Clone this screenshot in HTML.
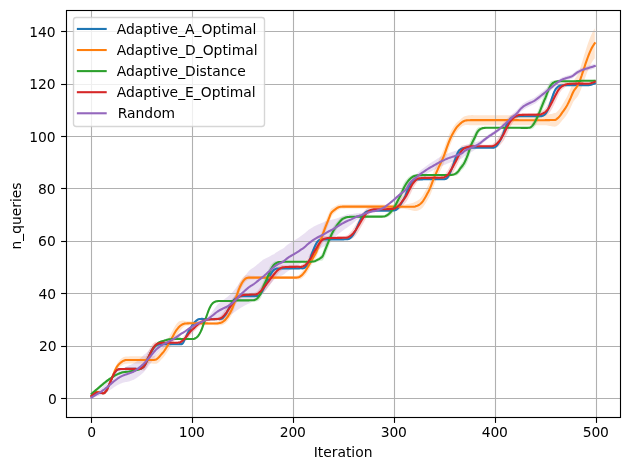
<!DOCTYPE html>
<html lang="en"><head><meta charset="utf-8"><title>n_queries vs Iteration</title>
<style>html,body{margin:0;padding:0;background:#fff}body{width:630px;height:470px;overflow:hidden}svg{display:block;will-change:transform}</style>
</head><body>
<svg width="630" height="470" viewBox="0 0 630 470">
<rect width="630" height="470" fill="#fff"/>
<defs><clipPath id="ax"><rect x="66.5" y="10.5" width="554.0" height="407.0"/></clipPath></defs>
<g clip-path="url(#ax)">
<path d="M91.50 395.77 L92.51 394.90 L93.52 394.16 L94.53 393.41 L95.53 392.70 L96.54 392.22 L97.55 392.13 L98.56 392.24 L99.57 392.41 L100.58 392.59 L101.59 392.76 L102.59 392.94 L103.60 393.01 L104.61 392.47 L105.62 391.37 L106.63 389.98 L107.64 387.88 L108.65 385.63 L109.66 383.27 L110.66 380.88 L111.67 378.45 L112.68 376.14 L113.69 374.08 L114.70 372.27 L115.71 370.95 L116.72 369.92 L117.72 369.33 L118.73 368.95 L119.74 368.79 L120.75 368.73 L121.76 368.70 L122.77 368.64 L123.78 368.62 L124.78 368.59 L125.79 368.57 L126.80 368.55 L127.81 368.53 L128.82 368.53 L129.83 368.53 L130.84 368.54 L131.84 368.54 L132.85 368.55 L133.86 368.56 L134.87 368.57 L135.88 368.58 L136.89 368.59 L137.90 368.57 L138.91 368.50 L139.91 368.34 L140.92 367.91 L141.93 367.20 L142.94 366.25 L143.95 365.15 L144.96 363.39 L145.97 361.03 L146.97 358.55 L147.98 356.47 L148.99 354.41 L150.00 352.35 L151.01 350.46 L152.02 348.84 L153.03 347.35 L154.03 346.18 L155.04 345.28 L156.05 344.56 L157.06 344.19 L158.07 344.02 L159.08 343.91 L160.09 343.86 L161.09 343.88 L162.10 343.92 L163.11 343.88 L164.12 343.86 L165.13 343.86 L166.14 343.87 L167.15 343.87 L168.16 343.87 L169.16 343.87 L170.17 343.87 L171.18 343.87 L172.19 343.87 L173.20 343.87 L174.21 343.87 L175.22 343.87 L176.22 343.87 L177.23 343.85 L178.24 343.85 L179.25 343.78 L180.26 343.48 L181.27 343.41 L182.28 342.66 L183.28 341.13 L184.29 338.68 L185.30 336.42 L186.31 334.19 L187.32 332.12 L188.33 330.20 L189.34 328.38 L190.34 326.71 L191.35 325.13 L192.36 323.69 L193.37 322.43 L194.38 321.29 L195.39 320.31 L196.40 319.60 L197.41 319.00 L198.41 318.58 L199.42 318.50 L200.43 318.51 L201.44 318.51 L202.45 318.51 L203.46 318.55 L204.47 318.63 L205.47 318.86 L206.48 318.81 L207.49 318.83 L208.50 318.84 L209.51 318.85 L210.52 318.85 L211.53 318.85 L212.53 318.85 L213.54 318.84 L214.55 318.83 L215.56 318.82 L216.57 318.76 L217.58 318.70 L218.59 318.61 L219.59 318.64 L220.60 318.43 L221.61 318.00 L222.62 317.19 L223.63 315.92 L224.64 314.47 L225.65 312.80 L226.66 310.88 L227.66 308.81 L228.67 306.78 L229.68 304.81 L230.69 303.00 L231.70 301.28 L232.71 299.90 L233.72 298.79 L234.72 297.83 L235.73 297.08 L236.74 296.57 L237.75 296.16 L238.76 295.91 L239.77 295.86 L240.78 295.85 L241.78 295.83 L242.79 295.80 L243.80 295.77 L244.81 295.78 L245.82 295.79 L246.83 295.79 L247.84 295.79 L248.84 295.79 L249.85 295.79 L250.86 295.79 L251.87 295.78 L252.88 295.77 L253.89 295.77 L254.90 295.70 L255.91 295.63 L256.91 295.47 L257.92 295.20 L258.93 294.66 L259.94 293.36 L260.95 291.80 L261.96 289.96 L262.97 287.90 L263.97 285.88 L264.98 283.78 L265.99 281.69 L267.00 279.63 L268.01 277.58 L269.02 275.61 L270.03 273.81 L271.03 272.07 L272.04 270.60 L273.05 269.56 L274.06 268.74 L275.07 268.29 L276.08 268.09 L277.09 267.99 L278.09 268.00 L279.10 268.01 L280.11 268.01 L281.12 268.02 L282.13 268.02 L283.14 268.02 L284.15 268.02 L285.16 268.02 L286.16 268.02 L287.17 268.02 L288.18 268.02 L289.19 268.02 L290.20 268.02 L291.21 268.02 L292.22 268.02 L293.22 268.02 L294.23 268.02 L295.24 268.02 L296.25 268.01 L297.26 268.00 L298.27 268.00 L299.28 267.94 L300.28 267.85 L301.29 267.88 L302.30 267.88 L303.31 267.63 L304.32 266.97 L305.33 265.96 L306.34 264.51 L307.34 262.70 L308.35 260.59 L309.36 258.18 L310.37 255.46 L311.38 252.52 L312.39 250.00 L313.40 247.69 L314.41 245.34 L315.41 243.19 L316.42 241.51 L317.43 240.25 L318.44 239.55 L319.45 239.16 L320.46 239.04 L321.47 238.97 L322.47 238.98 L323.48 239.02 L324.49 239.03 L325.50 239.03 L326.51 239.03 L327.52 239.02 L328.53 239.02 L329.53 239.02 L330.54 239.02 L331.55 239.02 L332.56 239.02 L333.57 239.02 L334.58 239.02 L335.59 239.02 L336.59 239.02 L337.60 239.02 L338.61 239.02 L339.62 239.02 L340.63 239.01 L341.64 238.99 L342.65 238.97 L343.66 238.94 L344.66 238.90 L345.67 238.84 L346.68 238.72 L347.69 238.55 L348.70 238.24 L349.71 237.49 L350.72 236.47 L351.72 235.33 L352.73 233.85 L353.74 232.13 L354.75 230.27 L355.76 228.11 L356.77 225.83 L357.78 223.63 L358.78 221.39 L359.79 219.20 L360.80 217.27 L361.81 215.45 L362.82 213.85 L363.83 212.67 L364.84 211.75 L365.84 211.04 L366.85 210.67 L367.86 210.44 L368.87 210.29 L369.88 210.28 L370.89 210.29 L371.90 210.30 L372.90 210.29 L373.91 210.28 L374.92 210.27 L375.93 210.27 L376.94 210.27 L377.95 210.27 L378.96 210.27 L379.97 210.27 L380.97 210.27 L381.98 210.27 L382.99 210.27 L384.00 210.27 L385.01 210.27 L386.02 210.27 L387.03 210.26 L388.03 210.25 L389.04 210.24 L390.05 210.21 L391.06 210.18 L392.07 210.10 L393.08 209.97 L394.09 209.75 L395.09 209.45 L396.10 208.91 L397.11 207.93 L398.12 206.74 L399.13 205.36 L400.14 203.68 L401.15 201.87 L402.15 200.09 L403.16 198.22 L404.17 196.18 L405.18 193.90 L406.19 191.25 L407.20 188.62 L408.21 186.32 L409.22 184.14 L410.22 182.38 L411.23 181.16 L412.24 180.11 L413.25 179.37 L414.26 179.12 L415.27 179.07 L416.28 179.02 L417.28 178.95 L418.29 178.92 L419.30 178.92 L420.31 178.91 L421.32 178.91 L422.33 178.90 L423.34 178.89 L424.34 178.88 L425.35 178.88 L426.36 178.89 L427.37 178.89 L428.38 178.89 L429.39 178.89 L430.40 178.88 L431.40 178.88 L432.41 178.88 L433.42 178.88 L434.43 178.88 L435.44 178.88 L436.45 178.88 L437.46 178.87 L438.47 178.86 L439.47 178.83 L440.48 178.81 L441.49 178.78 L442.50 178.74 L443.51 178.65 L444.52 178.47 L445.53 178.19 L446.53 177.34 L447.54 175.98 L448.55 174.31 L449.56 171.95 L450.57 169.35 L451.58 166.74 L452.59 163.98 L453.59 161.16 L454.60 158.28 L455.61 155.45 L456.62 152.99 L457.63 150.88 L458.64 149.55 L459.65 148.66 L460.65 148.21 L461.66 147.87 L462.67 147.60 L463.68 147.34 L464.69 147.19 L465.70 147.25 L466.71 147.29 L467.72 147.31 L468.72 147.31 L469.73 147.31 L470.74 147.31 L471.75 147.31 L472.76 147.31 L473.77 147.31 L474.78 147.31 L475.78 147.31 L476.79 147.31 L477.80 147.30 L478.81 147.30 L479.82 147.30 L480.83 147.30 L481.84 147.30 L482.84 147.30 L483.85 147.30 L484.86 147.30 L485.87 147.30 L486.88 147.30 L487.89 147.30 L488.90 147.30 L489.90 147.30 L490.91 147.29 L491.92 147.23 L492.93 147.14 L493.94 146.85 L494.95 146.15 L495.96 145.24 L496.97 144.09 L497.97 142.52 L498.98 140.76 L499.99 138.84 L501.00 136.66 L502.01 134.31 L503.02 131.67 L504.03 128.87 L505.03 126.32 L506.04 123.96 L507.05 121.82 L508.06 120.18 L509.07 118.90 L510.08 117.87 L511.09 117.15 L512.09 116.57 L513.10 116.11 L514.11 115.89 L515.12 115.88 L516.13 115.87 L517.14 115.85 L518.15 115.82 L519.15 115.80 L520.16 115.78 L521.17 115.77 L522.18 115.76 L523.19 115.76 L524.20 115.77 L525.21 115.77 L526.22 115.77 L527.22 115.77 L528.23 115.77 L529.24 115.77 L530.25 115.76 L531.26 115.76 L532.27 115.76 L533.28 115.76 L534.28 115.76 L535.29 115.76 L536.30 115.75 L537.31 115.73 L538.32 115.71 L539.33 115.68 L540.34 115.60 L541.34 115.47 L542.35 115.16 L543.36 114.51 L544.37 113.62 L545.38 112.50 L546.39 110.79 L547.40 108.69 L548.40 106.20 L549.41 103.19 L550.42 100.15 L551.43 97.02 L552.44 94.06 L553.45 91.50 L554.46 89.20 L555.47 87.64 L556.47 86.65 L557.48 85.95 L558.49 85.42 L559.50 84.98 L560.51 84.83 L561.52 84.82 L562.53 84.80 L563.53 84.76 L564.54 84.71 L565.55 84.63 L566.56 84.57 L567.57 84.59 L568.58 84.60 L569.59 84.60 L570.59 84.60 L571.60 84.60 L572.61 84.60 L573.62 84.60 L574.63 84.60 L575.64 84.60 L576.65 84.60 L577.65 84.60 L578.66 84.60 L579.67 84.60 L580.68 84.62 L581.69 84.63 L582.70 84.64 L583.71 84.66 L584.72 84.67 L585.72 84.69 L586.73 84.69 L587.74 84.66 L588.75 84.60 L589.76 84.40 L590.77 84.07 L591.78 83.70 L592.78 83.35 L593.79 82.94 L594.80 82.49 L594.80 84.14 L593.79 84.56 L592.78 84.92 L591.78 85.20 L590.77 85.46 L589.76 85.68 L588.75 85.79 L587.74 85.76 L586.73 85.72 L585.72 85.70 L584.72 85.69 L583.71 85.67 L582.70 85.66 L581.69 85.64 L580.68 85.62 L579.67 85.61 L578.66 85.60 L577.65 85.59 L576.65 85.59 L575.64 85.58 L574.63 85.58 L573.62 85.58 L572.61 85.58 L571.60 85.58 L570.59 85.58 L569.59 85.58 L568.58 85.59 L567.57 85.60 L566.56 85.61 L565.55 85.68 L564.54 85.78 L563.53 85.85 L562.53 85.93 L561.52 86.06 L560.51 86.27 L559.50 86.67 L558.49 87.45 L557.48 88.42 L556.47 89.70 L555.47 91.33 L554.46 93.53 L553.45 96.44 L552.44 99.44 L551.43 102.59 L550.42 105.65 L549.41 108.39 L548.40 110.94 L547.40 112.83 L546.39 114.28 L545.38 115.38 L544.37 115.97 L543.36 116.39 L542.35 116.69 L541.34 116.77 L540.34 116.72 L539.33 116.70 L538.32 116.70 L537.31 116.71 L536.30 116.71 L535.29 116.72 L534.28 116.72 L533.28 116.72 L532.27 116.71 L531.26 116.71 L530.25 116.71 L529.24 116.71 L528.23 116.71 L527.22 116.71 L526.22 116.71 L525.21 116.71 L524.20 116.71 L523.19 116.71 L522.18 116.72 L521.17 116.73 L520.16 116.76 L519.15 116.78 L518.15 116.82 L517.14 116.87 L516.13 116.96 L515.12 117.10 L514.11 117.32 L513.10 117.79 L512.09 118.56 L511.09 119.51 L510.08 120.61 L509.07 122.09 L508.06 123.88 L507.05 125.98 L506.04 128.52 L505.03 131.18 L504.03 133.81 L503.02 136.50 L502.01 138.92 L501.00 140.94 L499.99 142.75 L498.98 144.29 L497.97 145.65 L496.97 146.81 L495.96 147.55 L494.95 148.02 L493.94 148.35 L492.93 148.38 L491.92 148.28 L490.91 148.23 L489.90 148.22 L488.90 148.22 L487.89 148.22 L486.88 148.22 L485.87 148.22 L484.86 148.21 L483.85 148.21 L482.84 148.21 L481.84 148.21 L480.83 148.21 L479.82 148.21 L478.81 148.21 L477.80 148.21 L476.79 148.21 L475.78 148.21 L474.78 148.21 L473.77 148.21 L472.76 148.21 L471.75 148.21 L470.74 148.21 L469.73 148.21 L468.72 148.21 L467.72 148.21 L466.71 148.23 L465.70 148.27 L464.69 148.33 L463.68 148.63 L462.67 149.09 L461.66 149.63 L460.65 150.34 L459.65 151.31 L458.64 152.86 L457.63 154.88 L456.62 157.60 L455.61 160.50 L454.60 163.54 L453.59 166.42 L452.59 169.11 L451.58 171.65 L450.57 173.91 L449.56 176.02 L448.55 177.83 L447.54 178.85 L446.53 179.53 L445.53 179.85 L444.52 179.76 L443.51 179.69 L442.50 179.68 L441.49 179.70 L440.48 179.72 L439.47 179.74 L438.47 179.75 L437.46 179.76 L436.45 179.76 L435.44 179.76 L434.43 179.76 L433.42 179.76 L432.41 179.75 L431.40 179.75 L430.40 179.75 L429.39 179.75 L428.38 179.75 L427.37 179.75 L426.36 179.75 L425.35 179.75 L424.34 179.76 L423.34 179.77 L422.33 179.78 L421.32 179.79 L420.31 179.80 L419.30 179.83 L418.29 179.88 L417.28 179.96 L416.28 180.12 L415.27 180.40 L414.26 180.79 L413.25 181.43 L412.24 182.67 L411.23 184.30 L410.22 186.05 L409.22 188.23 L408.21 190.77 L407.20 193.27 L406.19 195.86 L405.18 198.33 L404.17 200.37 L403.16 202.12 L402.15 203.75 L401.15 205.32 L400.14 206.90 L399.13 208.32 L398.12 209.34 L397.11 210.11 L396.10 210.70 L395.09 210.93 L394.09 210.97 L393.08 211.02 L392.07 211.06 L391.06 211.09 L390.05 211.09 L389.04 211.10 L388.03 211.10 L387.03 211.11 L386.02 211.10 L385.01 211.10 L384.00 211.10 L382.99 211.10 L381.98 211.10 L380.97 211.10 L379.97 211.10 L378.96 211.10 L377.95 211.10 L376.94 211.10 L375.93 211.10 L374.92 211.11 L373.91 211.12 L372.90 211.14 L371.90 211.16 L370.89 211.21 L369.88 211.29 L368.87 211.44 L367.86 211.81 L366.85 212.35 L365.84 213.06 L364.84 214.17 L363.83 215.54 L362.82 217.12 L361.81 219.07 L360.80 221.20 L359.79 223.34 L358.78 225.61 L357.78 227.89 L356.77 230.00 L355.76 232.08 L354.75 233.98 L353.74 235.51 L352.73 236.84 L351.72 237.95 L350.72 238.70 L349.71 239.31 L348.70 239.72 L347.69 239.77 L346.68 239.74 L345.67 239.74 L344.66 239.76 L343.66 239.79 L342.65 239.80 L341.64 239.81 L340.63 239.82 L339.62 239.82 L338.61 239.82 L337.60 239.82 L336.59 239.81 L335.59 239.81 L334.58 239.81 L333.57 239.81 L332.56 239.81 L331.55 239.81 L330.54 239.81 L329.53 239.81 L328.53 239.81 L327.52 239.81 L326.51 239.82 L325.50 239.82 L324.49 239.83 L323.48 239.86 L322.47 239.91 L321.47 240.04 L320.46 240.37 L319.45 240.89 L318.44 241.79 L317.43 243.09 L316.42 244.95 L315.41 247.16 L314.41 249.67 L313.40 252.33 L312.39 254.82 L311.38 257.34 L310.37 260.14 L309.36 262.61 L308.35 264.59 L307.34 266.13 L306.34 267.37 L305.33 268.27 L304.32 268.75 L303.31 269.01 L302.30 268.95 L301.29 268.79 L300.28 268.67 L299.28 268.76 L298.27 268.80 L297.26 268.80 L296.25 268.78 L295.24 268.78 L294.23 268.78 L293.22 268.78 L292.22 268.78 L291.21 268.78 L290.20 268.78 L289.19 268.78 L288.18 268.78 L287.17 268.78 L286.16 268.78 L285.16 268.78 L284.15 268.78 L283.14 268.78 L282.13 268.78 L281.12 268.78 L280.11 268.79 L279.10 268.84 L278.09 268.92 L277.09 269.07 L276.08 269.43 L275.07 269.98 L274.06 270.84 L273.05 272.13 L272.04 273.60 L271.03 275.42 L270.03 277.44 L269.02 279.44 L268.01 281.50 L267.00 283.61 L265.99 285.67 L264.98 287.73 L263.97 289.73 L262.97 291.56 L261.96 293.33 L260.95 294.75 L259.94 295.77 L258.93 296.53 L257.92 296.62 L256.91 296.53 L255.91 296.48 L254.90 296.49 L253.89 296.54 L252.88 296.53 L251.87 296.52 L250.86 296.51 L249.85 296.51 L248.84 296.51 L247.84 296.51 L246.83 296.51 L245.82 296.52 L244.81 296.52 L243.80 296.53 L242.79 296.58 L241.78 296.64 L240.78 296.73 L239.77 296.88 L238.76 297.10 L237.75 297.58 L236.74 298.28 L235.73 299.09 L234.72 300.14 L233.72 301.44 L232.71 302.89 L231.70 304.57 L230.69 306.54 L229.68 308.53 L228.67 310.56 L227.66 312.51 L226.66 314.39 L225.65 316.03 L224.64 317.34 L223.63 318.33 L222.62 319.12 L221.61 319.51 L220.60 319.59 L219.59 319.55 L218.59 319.41 L217.58 319.45 L216.57 319.51 L215.56 319.57 L214.55 319.56 L213.54 319.55 L212.53 319.54 L211.53 319.54 L210.52 319.54 L209.51 319.54 L208.50 319.55 L207.49 319.56 L206.48 319.59 L205.47 319.65 L204.47 319.44 L203.46 319.35 L202.45 319.30 L201.44 319.30 L200.43 319.41 L199.42 319.60 L198.41 319.92 L197.41 320.63 L196.40 321.57 L195.39 322.57 L194.38 323.80 L193.37 325.20 L192.36 326.68 L191.35 328.33 L190.34 330.11 L189.34 331.97 L188.33 333.95 L187.32 336.00 L186.31 338.15 L185.30 340.29 L184.29 342.16 L183.28 343.97 L182.28 344.82 L181.27 344.94 L180.26 344.49 L179.25 344.53 L178.24 344.56 L177.23 344.56 L176.22 344.54 L175.22 344.54 L174.21 344.54 L173.20 344.54 L172.19 344.54 L171.18 344.54 L170.17 344.53 L169.16 344.53 L168.16 344.53 L167.15 344.53 L166.14 344.53 L165.13 344.54 L164.12 344.54 L163.11 344.56 L162.10 344.62 L161.09 344.63 L160.09 344.68 L159.08 344.86 L158.07 345.20 L157.06 345.67 L156.05 346.37 L155.04 347.48 L154.03 348.79 L153.03 350.33 L152.02 352.14 L151.01 354.05 L150.00 356.12 L148.99 358.33 L147.98 360.51 L146.97 362.51 L145.97 364.69 L144.96 366.62 L143.95 367.88 L142.94 368.40 L141.93 368.83 L140.92 369.18 L139.91 369.38 L138.91 369.35 L137.90 369.28 L136.89 369.24 L135.88 369.23 L134.87 369.22 L133.86 369.21 L132.85 369.20 L131.84 369.19 L130.84 369.18 L129.83 369.17 L128.82 369.17 L127.81 369.18 L126.80 369.20 L125.79 369.23 L124.78 369.26 L123.78 369.29 L122.77 369.32 L121.76 369.32 L120.75 369.36 L119.74 369.41 L118.73 369.57 L117.72 369.96 L116.72 370.54 L115.71 371.57 L114.70 372.89 L113.69 374.69 L112.68 376.76 L111.67 379.07 L110.66 381.49 L109.66 383.89 L108.65 386.24 L107.64 388.49 L106.63 390.60 L105.62 391.98 L104.61 393.08 L103.60 393.62 L102.59 393.55 L101.59 393.37 L100.58 393.20 L99.57 393.02 L98.56 392.84 L97.55 392.74 L96.54 392.82 L95.53 393.30 L94.53 394.01 L93.52 394.76 L92.51 395.50 L91.50 396.37Z" fill="#1f77b4" fill-opacity="0.2"/>
<path d="M91.50 395.29 L92.51 394.26 L93.52 393.37 L94.53 392.50 L95.53 391.68 L96.54 391.10 L97.55 390.94 L98.56 391.02 L99.57 391.19 L100.58 391.39 L101.59 391.62 L102.59 391.93 L103.60 392.01 L104.61 391.40 L105.62 390.24 L106.63 388.79 L107.64 386.54 L108.65 384.16 L109.66 381.69 L110.66 379.12 L111.67 376.46 L112.68 373.79 L113.69 371.09 L114.70 368.42 L115.71 366.14 L116.72 364.24 L117.72 362.60 L118.73 361.25 L119.74 360.10 L120.75 359.10 L121.76 358.23 L122.77 357.59 L123.78 357.09 L124.78 356.71 L125.79 356.46 L126.80 356.43 L127.81 356.41 L128.82 356.39 L129.83 356.37 L130.84 356.36 L131.84 356.36 L132.85 356.35 L133.86 356.35 L134.87 356.35 L135.88 356.35 L136.89 356.35 L137.90 356.35 L138.91 356.35 L139.91 356.35 L140.92 356.35 L141.93 356.35 L142.94 356.35 L143.95 356.35 L144.96 356.35 L145.97 356.35 L146.97 356.35 L147.98 356.35 L148.99 356.35 L150.00 356.35 L151.01 356.35 L152.02 356.34 L153.03 356.22 L154.03 356.07 L155.04 355.74 L156.05 355.21 L157.06 354.35 L158.07 353.26 L159.08 352.00 L160.09 350.66 L161.09 349.41 L162.10 348.19 L163.11 346.90 L164.12 345.48 L165.13 343.87 L166.14 342.18 L167.15 340.49 L168.16 338.76 L169.16 336.94 L170.17 335.01 L171.18 333.05 L172.19 331.13 L173.20 329.28 L174.21 327.43 L175.22 325.70 L176.22 324.22 L177.23 322.99 L178.24 321.94 L179.25 321.37 L180.26 320.88 L181.27 320.65 L182.28 320.56 L183.28 320.57 L184.29 320.71 L185.30 321.02 L186.31 321.34 L187.32 321.32 L188.33 321.30 L189.34 321.30 L190.34 321.32 L191.35 321.32 L192.36 321.33 L193.37 321.33 L194.38 321.33 L195.39 321.33 L196.40 321.33 L197.41 321.32 L198.41 321.36 L199.42 321.39 L200.43 321.42 L201.44 321.46 L202.45 321.50 L203.46 321.54 L204.47 321.59 L205.47 321.63 L206.48 321.68 L207.49 321.73 L208.50 321.77 L209.51 321.82 L210.52 321.87 L211.53 321.92 L212.53 321.97 L213.54 321.92 L214.55 321.85 L215.56 321.76 L216.57 321.62 L217.58 321.41 L218.59 321.16 L219.59 320.83 L220.60 320.43 L221.61 319.89 L222.62 319.07 L223.63 318.05 L224.64 316.95 L225.65 315.71 L226.66 314.25 L227.66 312.59 L228.67 310.90 L229.68 309.05 L230.69 306.95 L231.70 304.57 L232.71 301.96 L233.72 298.90 L234.72 295.64 L235.73 292.59 L236.74 289.61 L237.75 286.73 L238.76 284.12 L239.77 282.03 L240.78 280.28 L241.78 278.72 L242.79 277.42 L243.80 276.51 L244.81 275.77 L245.82 275.32 L246.83 275.27 L247.84 275.28 L248.84 275.37 L249.85 275.52 L250.86 275.64 L251.87 275.72 L252.88 275.78 L253.89 275.85 L254.90 275.92 L255.91 275.98 L256.91 276.05 L257.92 276.12 L258.93 276.12 L259.94 276.12 L260.95 276.12 L261.96 276.12 L262.97 276.12 L263.97 276.12 L264.98 276.12 L265.99 276.12 L267.00 276.12 L268.01 276.12 L269.02 276.12 L270.03 276.12 L271.03 276.12 L272.04 276.12 L273.05 276.12 L274.06 276.12 L275.07 276.12 L276.08 276.12 L277.09 276.12 L278.09 276.12 L279.10 276.12 L280.11 276.12 L281.12 276.12 L282.13 276.12 L283.14 276.12 L284.15 276.12 L285.16 276.12 L286.16 276.12 L287.17 276.12 L288.18 276.12 L289.19 276.12 L290.20 276.12 L291.21 276.12 L292.22 276.12 L293.22 276.12 L294.23 276.04 L295.24 275.95 L296.25 275.80 L297.26 275.57 L298.27 275.14 L299.28 274.51 L300.28 273.62 L301.29 272.59 L302.30 271.40 L303.31 270.06 L304.32 268.63 L305.33 267.03 L306.34 265.26 L307.34 263.41 L308.35 261.57 L309.36 259.72 L310.37 257.85 L311.38 256.07 L312.39 254.33 L313.40 252.56 L314.41 250.74 L315.41 248.85 L316.42 246.50 L317.43 243.48 L318.44 240.57 L319.45 237.76 L320.46 234.99 L321.47 232.20 L322.47 229.37 L323.48 226.55 L324.49 223.81 L325.50 221.24 L326.51 218.77 L327.52 216.33 L328.53 214.00 L329.53 211.74 L330.54 209.50 L331.55 208.26 L332.56 207.65 L333.57 207.16 L334.58 206.62 L335.59 206.02 L336.59 205.41 L337.60 204.89 L338.61 204.58 L339.62 204.52 L340.63 204.51 L341.64 204.50 L342.65 204.53 L343.66 204.59 L344.66 204.61 L345.67 204.62 L346.68 204.62 L347.69 204.62 L348.70 204.62 L349.71 204.62 L350.72 204.62 L351.72 204.62 L352.73 204.62 L353.74 204.62 L354.75 204.62 L355.76 204.62 L356.77 204.62 L357.78 204.62 L358.78 204.62 L359.79 204.62 L360.80 204.62 L361.81 204.62 L362.82 204.62 L363.83 204.62 L364.84 204.62 L365.84 204.62 L366.85 204.62 L367.86 204.62 L368.87 204.62 L369.88 204.62 L370.89 204.62 L371.90 204.62 L372.90 204.61 L373.91 204.61 L374.92 204.61 L375.93 204.61 L376.94 204.61 L377.95 204.61 L378.96 204.61 L379.97 204.61 L380.97 204.61 L381.98 204.61 L382.99 204.61 L384.00 204.61 L385.01 204.61 L386.02 204.61 L387.03 204.60 L388.03 204.60 L389.04 204.60 L390.05 204.60 L391.06 204.60 L392.07 204.60 L393.08 204.60 L394.09 204.60 L395.09 204.60 L396.10 204.61 L397.11 204.61 L398.12 204.62 L399.13 204.63 L400.14 204.64 L401.15 204.65 L402.15 204.66 L403.16 204.68 L404.17 204.69 L405.18 204.49 L406.19 204.30 L407.20 204.10 L408.21 203.90 L409.22 203.70 L410.22 203.49 L411.23 203.27 L412.24 203.01 L413.25 202.70 L414.26 202.36 L415.27 201.85 L416.28 201.17 L417.28 200.67 L418.29 200.11 L419.30 199.41 L420.31 198.49 L421.32 197.34 L422.33 195.99 L423.34 194.33 L424.34 192.52 L425.35 190.68 L426.36 188.75 L427.37 186.77 L428.38 184.74 L429.39 182.54 L430.40 180.04 L431.40 177.32 L432.41 174.58 L433.42 171.96 L434.43 169.57 L435.44 167.33 L436.45 165.12 L437.46 162.93 L438.47 160.74 L439.47 158.54 L440.48 156.46 L441.49 154.34 L442.50 152.09 L443.51 149.64 L444.52 146.93 L445.53 143.99 L446.53 141.14 L447.54 138.53 L448.55 136.06 L449.56 133.76 L450.57 131.64 L451.58 129.78 L452.59 128.13 L453.59 126.62 L454.60 125.20 L455.61 123.84 L456.62 122.64 L457.63 121.69 L458.64 120.90 L459.65 120.17 L460.65 119.14 L461.66 118.16 L462.67 117.41 L463.68 116.84 L464.69 116.37 L465.70 116.05 L466.71 115.81 L467.72 115.57 L468.72 115.34 L469.73 115.13 L470.74 115.13 L471.75 115.12 L472.76 115.12 L473.77 115.13 L474.78 115.13 L475.78 115.13 L476.79 115.13 L477.80 115.13 L478.81 115.13 L479.82 115.13 L480.83 115.13 L481.84 115.13 L482.84 115.13 L483.85 115.13 L484.86 115.13 L485.87 115.13 L486.88 115.13 L487.89 115.13 L488.90 115.13 L489.90 115.13 L490.91 115.13 L491.92 115.13 L492.93 115.14 L493.94 115.14 L494.95 115.14 L495.96 115.14 L496.97 115.14 L497.97 115.14 L498.98 115.14 L499.99 115.14 L501.00 115.14 L502.01 115.14 L503.02 115.15 L504.03 115.15 L505.03 115.15 L506.04 115.15 L507.05 115.15 L508.06 115.15 L509.07 115.15 L510.08 115.16 L511.09 115.16 L512.09 115.16 L513.10 115.16 L514.11 115.16 L515.12 115.16 L516.13 115.16 L517.14 115.16 L518.15 115.16 L519.15 115.16 L520.16 115.17 L521.17 115.17 L522.18 115.17 L523.19 115.17 L524.20 115.17 L525.21 115.17 L526.22 115.17 L527.22 115.17 L528.23 115.17 L529.24 115.17 L530.25 115.17 L531.26 115.17 L532.27 115.17 L533.28 115.17 L534.28 115.17 L535.29 115.17 L536.30 115.17 L537.31 115.17 L538.32 115.17 L539.33 115.17 L540.34 115.17 L541.34 115.17 L542.35 115.17 L543.36 115.17 L544.37 115.16 L545.38 115.16 L546.39 114.96 L547.40 114.75 L548.40 114.55 L549.41 114.33 L550.42 114.11 L551.43 113.89 L552.44 113.65 L553.45 113.35 L554.46 113.00 L555.47 113.05 L556.47 112.36 L557.48 111.33 L558.49 110.25 L559.50 108.98 L560.51 107.54 L561.52 105.91 L562.53 104.27 L563.53 102.65 L564.54 101.00 L565.55 99.27 L566.56 97.41 L567.57 95.39 L568.58 93.23 L569.59 90.94 L570.59 88.59 L571.60 85.97 L572.61 83.31 L573.62 81.09 L574.63 79.37 L575.64 77.86 L576.65 76.27 L577.65 74.44 L578.66 72.16 L579.67 69.51 L580.68 66.66 L581.69 63.52 L582.70 60.15 L583.71 56.81 L584.72 53.48 L585.72 50.19 L586.73 47.08 L587.74 44.07 L588.75 41.21 L589.76 38.55 L590.77 36.03 L591.78 33.74 L592.78 31.73 L593.79 29.90 L594.80 28.28 L594.80 58.28 L593.79 59.46 L592.78 60.84 L591.78 62.41 L590.77 64.25 L589.76 66.33 L588.75 68.54 L587.74 70.96 L586.73 73.52 L585.72 76.19 L584.72 78.98 L583.71 81.81 L582.70 84.65 L581.69 87.52 L580.68 90.16 L579.67 92.51 L578.66 94.66 L577.65 96.44 L576.65 97.77 L575.64 98.86 L574.63 99.99 L573.62 101.34 L572.61 103.18 L571.60 105.47 L570.59 107.71 L569.59 109.69 L568.58 111.60 L567.57 113.39 L566.56 114.99 L565.55 116.41 L564.54 117.71 L563.53 118.93 L562.53 120.12 L561.52 121.34 L560.51 122.54 L559.50 123.70 L558.49 124.68 L557.48 125.48 L556.47 126.22 L555.47 126.62 L554.46 126.85 L553.45 126.59 L552.44 126.38 L551.43 126.22 L550.42 126.06 L549.41 125.89 L548.40 125.71 L547.40 125.54 L546.39 125.36 L545.38 125.17 L544.37 125.17 L543.36 125.17 L542.35 125.17 L541.34 125.17 L540.34 125.17 L539.33 125.17 L538.32 125.17 L537.31 125.17 L536.30 125.17 L535.29 125.17 L534.28 125.17 L533.28 125.17 L532.27 125.17 L531.26 125.17 L530.25 125.17 L529.24 125.17 L528.23 125.17 L527.22 125.17 L526.22 125.17 L525.21 125.17 L524.20 125.17 L523.19 125.17 L522.18 125.17 L521.17 125.17 L520.16 125.17 L519.15 125.17 L518.15 125.17 L517.14 125.17 L516.13 125.16 L515.12 125.16 L514.11 125.16 L513.10 125.16 L512.09 125.16 L511.09 125.16 L510.08 125.16 L509.07 125.16 L508.06 125.16 L507.05 125.15 L506.04 125.15 L505.03 125.15 L504.03 125.15 L503.02 125.15 L502.01 125.15 L501.00 125.15 L499.99 125.15 L498.98 125.14 L497.97 125.14 L496.97 125.14 L495.96 125.14 L494.95 125.14 L493.94 125.14 L492.93 125.14 L491.92 125.14 L490.91 125.14 L489.90 125.14 L488.90 125.13 L487.89 125.13 L486.88 125.13 L485.87 125.13 L484.86 125.13 L483.85 125.13 L482.84 125.13 L481.84 125.13 L480.83 125.13 L479.82 125.13 L478.81 125.13 L477.80 125.13 L476.79 125.13 L475.78 125.13 L474.78 125.13 L473.77 125.13 L472.76 125.14 L471.75 125.15 L470.74 125.18 L469.73 125.23 L468.72 125.09 L467.72 125.00 L466.71 124.99 L465.70 125.04 L464.69 125.21 L463.68 125.59 L462.67 126.11 L461.66 126.75 L460.65 127.56 L459.65 128.41 L458.64 129.54 L457.63 130.78 L456.62 132.22 L455.61 133.92 L454.60 135.78 L453.59 137.69 L452.59 139.71 L451.58 141.91 L450.57 144.36 L449.56 147.04 L448.55 149.86 L447.54 152.78 L446.53 155.67 L445.53 158.61 L444.52 161.48 L443.51 164.02 L442.50 166.26 L441.49 168.39 L440.48 170.54 L439.47 172.75 L438.47 175.00 L437.46 177.28 L436.45 179.58 L435.44 181.94 L434.43 184.39 L433.42 186.95 L432.41 189.63 L431.40 192.25 L430.40 194.67 L429.39 196.79 L428.38 198.62 L427.37 200.33 L426.36 202.07 L425.35 203.80 L424.34 205.35 L423.34 206.76 L422.33 207.97 L421.32 208.83 L420.31 209.49 L419.30 210.01 L418.29 210.40 L417.28 210.71 L416.28 210.97 L415.27 211.02 L414.26 210.93 L413.25 210.69 L412.24 210.44 L411.23 210.22 L410.22 210.01 L409.22 209.79 L408.21 209.58 L407.20 209.37 L406.19 209.15 L405.18 208.93 L404.17 208.71 L403.16 208.70 L402.15 208.69 L401.15 208.68 L400.14 208.67 L399.13 208.65 L398.12 208.64 L397.11 208.63 L396.10 208.62 L395.09 208.61 L394.09 208.61 L393.08 208.60 L392.07 208.60 L391.06 208.60 L390.05 208.60 L389.04 208.60 L388.03 208.61 L387.03 208.61 L386.02 208.61 L385.01 208.61 L384.00 208.61 L382.99 208.61 L381.98 208.61 L380.97 208.61 L379.97 208.61 L378.96 208.61 L377.95 208.61 L376.94 208.61 L375.93 208.61 L374.92 208.62 L373.91 208.62 L372.90 208.62 L371.90 208.62 L370.89 208.62 L369.88 208.62 L368.87 208.62 L367.86 208.62 L366.85 208.62 L365.84 208.62 L364.84 208.62 L363.83 208.62 L362.82 208.62 L361.81 208.62 L360.80 208.62 L359.79 208.62 L358.78 208.62 L357.78 208.62 L356.77 208.62 L355.76 208.62 L354.75 208.62 L353.74 208.62 L352.73 208.62 L351.72 208.62 L350.72 208.62 L349.71 208.62 L348.70 208.62 L347.69 208.62 L346.68 208.62 L345.67 208.62 L344.66 208.63 L343.66 208.65 L342.65 208.72 L341.64 208.87 L340.63 209.11 L339.62 209.45 L338.61 209.87 L337.60 210.53 L336.59 211.36 L335.59 212.25 L334.58 213.10 L333.57 214.02 L332.56 215.25 L331.55 216.82 L330.54 218.94 L329.53 221.94 L328.53 224.81 L327.52 227.36 L326.51 229.87 L325.50 232.49 L324.49 235.25 L323.48 238.12 L322.47 241.02 L321.47 243.84 L320.46 246.58 L319.45 249.30 L318.44 251.94 L317.43 254.43 L316.42 256.93 L315.41 258.81 L314.41 260.24 L313.40 261.75 L312.39 263.49 L311.38 265.31 L310.37 267.11 L309.36 268.93 L308.35 270.70 L307.34 272.23 L306.34 273.69 L305.33 275.04 L304.32 276.19 L303.31 277.12 L302.30 277.96 L301.29 278.65 L300.28 279.13 L299.28 279.47 L298.27 279.57 L297.26 279.54 L296.25 279.41 L295.24 279.29 L294.23 279.19 L293.22 279.12 L292.22 279.12 L291.21 279.12 L290.20 279.12 L289.19 279.12 L288.18 279.12 L287.17 279.12 L286.16 279.12 L285.16 279.12 L284.15 279.12 L283.14 279.12 L282.13 279.12 L281.12 279.12 L280.11 279.12 L279.10 279.12 L278.09 279.12 L277.09 279.12 L276.08 279.12 L275.07 279.12 L274.06 279.12 L273.05 279.12 L272.04 279.12 L271.03 279.12 L270.03 279.12 L269.02 279.12 L268.01 279.12 L267.00 279.12 L265.99 279.12 L264.98 279.12 L263.97 279.12 L262.97 279.12 L261.96 279.12 L260.95 279.12 L259.94 279.12 L258.93 279.12 L257.92 279.12 L256.91 279.18 L255.91 279.25 L254.90 279.32 L253.89 279.38 L252.88 279.45 L251.87 279.52 L250.86 279.60 L249.85 279.71 L248.84 279.86 L247.84 280.19 L246.83 280.77 L245.82 281.52 L244.81 282.69 L243.80 284.24 L242.79 285.94 L241.78 287.85 L240.78 290.08 L239.77 292.54 L238.76 295.26 L237.75 298.34 L236.74 301.58 L235.73 304.70 L234.72 307.56 L233.72 310.41 L232.71 312.97 L231.70 314.97 L230.69 316.70 L229.68 318.27 L228.67 319.70 L227.66 321.00 L226.66 322.12 L225.65 323.09 L224.64 323.82 L223.63 324.38 L222.62 324.87 L221.61 325.21 L220.60 325.32 L219.59 325.32 L218.59 325.33 L217.58 325.34 L216.57 325.32 L215.56 325.27 L214.55 325.18 L213.54 325.09 L212.53 325.01 L211.53 325.03 L210.52 325.04 L209.51 325.05 L208.50 325.07 L207.49 325.09 L206.48 325.11 L205.47 325.13 L204.47 325.15 L203.46 325.17 L202.45 325.19 L201.44 325.21 L200.43 325.24 L199.42 325.26 L198.41 325.29 L197.41 325.33 L196.40 325.33 L195.39 325.33 L194.38 325.33 L193.37 325.33 L192.36 325.33 L191.35 325.33 L190.34 325.33 L189.34 325.35 L188.33 325.38 L187.32 325.45 L186.31 325.56 L185.30 326.05 L184.29 326.59 L183.28 327.35 L182.28 328.33 L181.27 329.43 L180.26 330.64 L179.25 332.12 L178.24 333.70 L177.23 335.08 L176.22 336.60 L175.22 338.34 L174.21 340.24 L173.20 342.17 L172.19 343.99 L171.18 345.78 L170.17 347.56 L169.16 349.27 L168.16 350.85 L167.15 352.35 L166.14 353.80 L165.13 355.24 L164.12 356.59 L163.11 357.76 L162.10 358.83 L161.09 359.87 L160.09 360.94 L159.08 362.01 L158.07 362.87 L157.06 363.44 L156.05 363.75 L155.04 363.79 L154.03 363.73 L153.03 363.63 L152.02 363.54 L151.01 363.55 L150.00 363.55 L148.99 363.55 L147.98 363.55 L146.97 363.55 L145.97 363.55 L144.96 363.55 L143.95 363.55 L142.94 363.55 L141.93 363.55 L140.92 363.55 L139.91 363.55 L138.91 363.55 L137.90 363.55 L136.89 363.55 L135.88 363.55 L134.87 363.55 L133.86 363.55 L132.85 363.55 L131.84 363.56 L130.84 363.56 L129.83 363.57 L128.82 363.59 L127.81 363.61 L126.80 363.63 L125.79 363.66 L124.78 363.91 L123.78 364.29 L122.77 364.79 L121.76 365.43 L120.75 366.02 L119.74 366.74 L118.73 367.61 L117.72 368.68 L116.72 370.04 L115.71 371.66 L114.70 373.66 L113.69 376.05 L112.68 378.47 L111.67 380.86 L110.66 383.24 L109.66 385.53 L108.65 387.72 L107.64 389.82 L106.63 391.79 L105.62 393.11 L104.61 394.14 L103.60 394.61 L102.59 394.39 L101.59 393.96 L100.58 393.59 L99.57 393.26 L98.56 392.95 L97.55 392.74 L96.54 392.76 L95.53 393.21 L94.53 393.90 L93.52 394.64 L92.51 395.40 L91.50 396.29Z" fill="#ff7f0e" fill-opacity="0.2"/>
<path d="M91.50 393.40 L92.51 392.32 L93.52 391.26 L94.53 390.25 L95.53 389.25 L96.54 388.27 L97.55 387.28 L98.56 386.28 L99.57 385.28 L100.58 384.28 L101.59 383.28 L102.59 382.50 L103.60 381.73 L104.61 380.99 L105.62 380.27 L106.63 379.58 L107.64 378.91 L108.65 378.25 L109.66 377.60 L110.66 376.97 L111.67 376.36 L112.68 375.79 L113.69 375.23 L114.70 374.71 L115.71 374.23 L116.72 373.80 L117.72 373.31 L118.73 372.86 L119.74 372.48 L120.75 372.12 L121.76 371.80 L122.77 371.54 L123.78 371.35 L124.78 371.21 L125.79 371.10 L126.80 370.99 L127.81 370.88 L128.82 370.75 L129.83 370.58 L130.84 370.38 L131.84 370.17 L132.85 369.95 L133.86 369.74 L134.87 369.56 L135.88 369.39 L136.89 369.20 L137.90 368.98 L138.91 368.69 L139.91 368.30 L140.92 367.80 L141.93 367.18 L142.94 366.43 L143.95 365.33 L144.96 363.70 L145.97 361.76 L146.97 359.73 L147.98 357.74 L148.99 355.53 L150.00 353.26 L151.01 351.15 L152.02 349.31 L153.03 347.61 L154.03 346.18 L155.04 345.07 L156.05 344.14 L157.06 343.26 L158.07 342.37 L159.08 341.66 L160.09 341.15 L161.09 340.74 L162.10 340.41 L163.11 340.14 L164.12 339.86 L165.13 339.56 L166.14 339.26 L167.15 338.93 L168.16 338.65 L169.16 338.51 L170.17 338.43 L171.18 338.37 L172.19 338.33 L173.20 338.28 L174.21 338.23 L175.22 338.18 L176.22 338.13 L177.23 338.09 L178.24 338.08 L179.25 338.08 L180.26 338.11 L181.27 338.14 L182.28 338.18 L183.28 338.20 L184.29 338.22 L185.30 338.22 L186.31 338.22 L187.32 338.22 L188.33 338.22 L189.34 338.22 L190.34 338.22 L191.35 338.22 L192.36 338.22 L193.37 338.21 L194.38 337.97 L195.39 337.45 L196.40 336.76 L197.41 335.97 L198.41 334.77 L199.42 333.18 L200.43 331.35 L201.44 329.23 L202.45 326.49 L203.46 323.59 L204.47 320.89 L205.47 318.20 L206.48 315.51 L207.49 312.70 L208.50 309.87 L209.51 307.48 L210.52 305.48 L211.53 303.78 L212.53 302.61 L213.54 301.77 L214.55 301.15 L215.56 300.80 L216.57 300.54 L217.58 300.35 L218.59 300.24 L219.59 300.23 L220.60 300.23 L221.61 300.23 L222.62 300.23 L223.63 300.23 L224.64 300.23 L225.65 300.23 L226.66 300.23 L227.66 300.23 L228.67 300.23 L229.68 300.22 L230.69 300.16 L231.70 300.04 L232.71 299.96 L233.72 299.66 L234.72 299.36 L235.73 299.41 L236.74 299.53 L237.75 299.59 L238.76 299.59 L239.77 299.59 L240.78 299.59 L241.78 299.59 L242.79 299.59 L243.80 299.59 L244.81 299.58 L245.82 299.57 L246.83 299.55 L247.84 299.53 L248.84 299.49 L249.85 299.45 L250.86 299.40 L251.87 299.32 L252.88 299.14 L253.89 298.86 L254.90 298.36 L255.91 297.41 L256.91 296.17 L257.92 294.61 L258.93 292.55 L259.94 290.22 L260.95 287.62 L261.96 284.79 L262.97 282.01 L263.97 279.60 L264.98 277.42 L265.99 275.21 L267.00 272.93 L268.01 270.65 L269.02 268.34 L270.03 266.22 L271.03 264.54 L272.04 263.44 L273.05 262.55 L274.06 261.81 L275.07 261.35 L276.08 261.16 L277.09 261.00 L278.09 260.89 L279.10 260.90 L280.11 260.98 L281.12 261.01 L282.13 261.00 L283.14 260.99 L284.15 260.99 L285.16 261.01 L286.16 261.02 L287.17 261.03 L288.18 261.03 L289.19 261.03 L290.20 261.03 L291.21 261.03 L292.22 261.03 L293.22 261.02 L294.23 261.01 L295.24 261.01 L296.25 260.97 L297.26 260.96 L298.27 260.97 L299.28 260.98 L300.28 260.98 L301.29 260.98 L302.30 260.98 L303.31 260.98 L304.32 260.98 L305.33 260.98 L306.34 260.98 L307.34 260.97 L308.35 260.95 L309.36 260.92 L310.37 260.84 L311.38 260.70 L312.39 260.49 L313.40 260.21 L314.41 259.86 L315.41 259.36 L316.42 258.73 L317.43 258.05 L318.44 257.41 L319.45 256.73 L320.46 255.75 L321.47 254.27 L322.47 252.42 L323.48 249.64 L324.49 246.28 L325.50 243.34 L326.51 240.81 L327.52 238.36 L328.53 235.93 L329.53 233.65 L330.54 231.46 L331.55 229.43 L332.56 227.66 L333.57 226.16 L334.58 224.79 L335.59 223.46 L336.59 222.16 L337.60 220.90 L338.61 219.76 L339.62 218.75 L340.63 217.84 L341.64 217.15 L342.65 216.77 L343.66 216.51 L344.66 216.29 L345.67 216.12 L346.68 215.99 L347.69 215.92 L348.70 215.93 L349.71 215.93 L350.72 215.92 L351.72 215.90 L352.73 215.89 L353.74 215.88 L354.75 215.86 L355.76 215.84 L356.77 215.83 L357.78 215.82 L358.78 215.82 L359.79 215.81 L360.80 215.81 L361.81 215.82 L362.82 215.82 L363.83 215.82 L364.84 215.82 L365.84 215.82 L366.85 215.82 L367.86 215.82 L368.87 215.82 L369.88 215.82 L370.89 215.82 L371.90 215.82 L372.90 215.82 L373.91 215.81 L374.92 215.81 L375.93 215.81 L376.94 215.81 L377.95 215.81 L378.96 215.81 L379.97 215.80 L380.97 215.76 L381.98 215.67 L382.99 215.53 L384.00 215.19 L385.01 214.68 L386.02 214.08 L387.03 213.28 L388.03 212.31 L389.04 211.22 L390.05 209.99 L391.06 208.59 L392.07 207.04 L393.08 205.38 L394.09 203.55 L395.09 201.53 L396.10 199.42 L397.11 197.36 L398.12 195.37 L399.13 193.42 L400.14 191.31 L401.15 189.10 L402.15 186.90 L403.16 184.35 L404.17 182.40 L405.18 181.11 L406.19 179.87 L407.20 178.64 L408.21 177.60 L409.22 176.74 L410.22 175.95 L411.23 175.38 L412.24 174.93 L413.25 174.57 L414.26 174.40 L415.27 174.34 L416.28 174.27 L417.28 174.20 L418.29 174.17 L419.30 174.20 L420.31 174.26 L421.32 174.28 L422.33 174.29 L423.34 174.28 L424.34 174.28 L425.35 174.28 L426.36 174.28 L427.37 174.27 L428.38 174.27 L429.39 174.27 L430.40 174.27 L431.40 174.27 L432.41 174.27 L433.42 174.27 L434.43 174.27 L435.44 174.27 L436.45 174.27 L437.46 174.27 L438.47 174.27 L439.47 174.27 L440.48 174.27 L441.49 174.27 L442.50 174.27 L443.51 174.27 L444.52 174.27 L445.53 174.27 L446.53 174.26 L447.54 174.24 L448.55 174.20 L449.56 174.12 L450.57 173.98 L451.58 173.77 L452.59 173.49 L453.59 173.10 L454.60 172.46 L455.61 171.57 L456.62 170.51 L457.63 169.22 L458.64 167.64 L459.65 166.01 L460.65 164.54 L461.66 163.20 L462.67 161.69 L463.68 159.81 L464.69 157.47 L465.70 154.75 L466.71 151.82 L467.72 148.86 L468.72 145.68 L469.73 142.59 L470.74 139.99 L471.75 138.07 L472.76 136.35 L473.77 134.53 L474.78 132.62 L475.78 130.57 L476.79 128.70 L477.80 127.66 L478.81 127.25 L479.82 127.07 L480.83 126.97 L481.84 126.86 L482.84 126.82 L483.85 126.86 L484.86 126.89 L485.87 126.91 L486.88 126.93 L487.89 126.97 L488.90 126.99 L489.90 126.99 L490.91 126.99 L491.92 126.99 L492.93 126.99 L493.94 126.99 L494.95 126.99 L495.96 126.99 L496.97 126.99 L497.97 126.99 L498.98 126.99 L499.99 126.99 L501.00 126.99 L502.01 126.99 L503.02 126.99 L504.03 126.99 L505.03 126.99 L506.04 126.99 L507.05 126.99 L508.06 126.99 L509.07 126.99 L510.08 126.99 L511.09 126.99 L512.09 126.99 L513.10 126.99 L514.11 126.99 L515.12 126.99 L516.13 126.99 L517.14 126.98 L518.15 126.97 L519.15 126.97 L520.16 127.00 L521.17 127.03 L522.18 127.03 L523.19 127.04 L524.20 127.05 L525.21 127.04 L526.22 127.01 L527.22 126.91 L528.23 126.72 L529.24 126.30 L530.25 125.56 L531.26 124.52 L532.27 122.93 L533.28 121.12 L534.28 119.02 L535.29 116.78 L536.30 114.51 L537.31 112.15 L538.32 109.66 L539.33 107.05 L540.34 104.43 L541.34 101.83 L542.35 99.34 L543.36 96.90 L544.37 94.47 L545.38 92.19 L546.39 89.63 L547.40 86.86 L548.40 84.55 L549.41 82.97 L550.42 81.75 L551.43 81.02 L552.44 80.64 L553.45 80.40 L554.46 80.32 L555.47 80.31 L556.47 80.30 L557.48 80.29 L558.49 80.37 L559.50 80.44 L560.51 80.47 L561.52 80.47 L562.53 80.46 L563.53 80.46 L564.54 80.46 L565.55 80.46 L566.56 80.46 L567.57 80.45 L568.58 80.45 L569.59 80.44 L570.59 80.44 L571.60 80.43 L572.61 80.42 L573.62 80.39 L574.63 80.36 L575.64 80.30 L576.65 80.23 L577.65 80.14 L578.66 80.07 L579.67 80.00 L580.68 79.96 L581.69 79.93 L582.70 79.93 L583.71 79.95 L584.72 79.97 L585.72 79.97 L586.73 79.97 L587.74 79.97 L588.75 79.97 L589.76 79.97 L590.77 79.97 L591.78 79.97 L592.78 79.97 L593.79 79.97 L594.80 79.97 L594.80 81.57 L593.79 81.57 L592.78 81.57 L591.78 81.57 L590.77 81.57 L589.76 81.57 L588.75 81.57 L587.74 81.57 L586.73 81.57 L585.72 81.57 L584.72 81.58 L583.71 81.60 L582.70 81.62 L581.69 81.68 L580.68 81.76 L579.67 81.84 L578.66 81.92 L577.65 81.99 L576.65 82.04 L575.64 82.06 L574.63 82.07 L573.62 82.06 L572.61 82.06 L571.60 82.06 L570.59 82.06 L569.59 82.06 L568.58 82.06 L567.57 82.06 L566.56 82.07 L565.55 82.07 L564.54 82.07 L563.53 82.08 L562.53 82.09 L561.52 82.09 L560.51 82.11 L559.50 82.16 L558.49 82.25 L557.48 82.40 L556.47 82.72 L555.47 83.22 L554.46 83.87 L553.45 84.75 L552.44 86.10 L551.43 87.78 L550.42 89.90 L549.41 92.55 L548.40 95.32 L547.40 98.19 L546.39 101.14 L545.38 103.74 L544.37 105.86 L543.36 108.15 L542.35 110.70 L541.34 113.30 L540.34 115.82 L539.33 118.14 L538.32 120.32 L537.31 122.29 L536.30 124.08 L535.29 125.64 L534.28 127.06 L533.28 128.17 L532.27 128.82 L531.26 129.22 L530.25 129.19 L529.24 129.07 L528.23 128.89 L527.22 128.76 L526.22 128.69 L525.21 128.66 L524.20 128.65 L523.19 128.66 L522.18 128.67 L521.17 128.67 L520.16 128.64 L519.15 128.61 L518.15 128.61 L517.14 128.60 L516.13 128.59 L515.12 128.59 L514.11 128.59 L513.10 128.59 L512.09 128.59 L511.09 128.59 L510.08 128.59 L509.07 128.59 L508.06 128.59 L507.05 128.59 L506.04 128.59 L505.03 128.59 L504.03 128.59 L503.02 128.59 L502.01 128.59 L501.00 128.59 L499.99 128.59 L498.98 128.59 L497.97 128.59 L496.97 128.59 L495.96 128.59 L494.95 128.59 L493.94 128.59 L492.93 128.59 L491.92 128.59 L490.91 128.59 L489.90 128.59 L488.90 128.59 L487.89 128.61 L486.88 128.65 L485.87 128.72 L484.86 128.87 L483.85 129.12 L482.84 129.43 L481.84 129.95 L480.83 130.73 L479.82 131.75 L478.81 133.19 L477.80 135.02 L476.79 137.24 L475.78 139.91 L474.78 142.47 L473.77 144.59 L472.76 146.69 L471.75 149.11 L470.74 151.91 L469.73 155.13 L468.72 158.41 L467.72 161.29 L466.71 163.43 L465.70 165.23 L464.69 166.83 L463.68 168.20 L462.67 169.32 L461.66 170.35 L460.65 171.44 L459.65 172.69 L458.64 173.95 L457.63 174.96 L456.62 175.49 L455.61 175.69 L454.60 175.84 L453.59 175.96 L452.59 175.96 L451.58 175.93 L450.57 175.93 L449.56 175.94 L448.55 175.93 L447.54 175.90 L446.53 175.88 L445.53 175.87 L444.52 175.87 L443.51 175.87 L442.50 175.87 L441.49 175.87 L440.48 175.87 L439.47 175.87 L438.47 175.87 L437.46 175.87 L436.45 175.87 L435.44 175.87 L434.43 175.87 L433.42 175.87 L432.41 175.87 L431.40 175.87 L430.40 175.88 L429.39 175.88 L428.38 175.88 L427.37 175.88 L426.36 175.89 L425.35 175.89 L424.34 175.90 L423.34 175.90 L422.33 175.91 L421.32 175.93 L420.31 175.97 L419.30 176.04 L418.29 176.17 L417.28 176.40 L416.28 176.72 L415.27 177.13 L414.26 177.62 L413.25 178.27 L412.24 179.18 L411.23 180.26 L410.22 181.41 L409.22 182.78 L408.21 184.27 L407.20 185.89 L406.19 187.74 L405.18 189.89 L404.17 191.98 L403.16 194.31 L402.15 197.07 L401.15 199.27 L400.14 201.09 L399.13 202.82 L398.12 204.65 L397.11 206.53 L396.10 208.39 L395.09 210.11 L394.09 211.62 L393.08 212.85 L392.07 213.88 L391.06 214.81 L390.05 215.66 L389.04 216.35 L388.03 216.85 L387.03 217.24 L386.02 217.52 L385.01 217.61 L384.00 217.64 L382.99 217.63 L381.98 217.54 L380.97 217.45 L379.97 217.42 L378.96 217.41 L377.95 217.41 L376.94 217.42 L375.93 217.42 L374.92 217.42 L373.91 217.42 L372.90 217.42 L371.90 217.42 L370.89 217.42 L369.88 217.42 L368.87 217.42 L367.86 217.42 L366.85 217.42 L365.84 217.42 L364.84 217.42 L363.83 217.42 L362.82 217.42 L361.81 217.43 L360.80 217.43 L359.79 217.44 L358.78 217.46 L357.78 217.48 L356.77 217.50 L355.76 217.52 L354.75 217.55 L353.74 217.59 L352.73 217.62 L351.72 217.67 L350.72 217.74 L349.71 217.85 L348.70 218.02 L347.69 218.23 L346.68 218.56 L345.67 219.04 L344.66 219.59 L343.66 220.27 L342.65 221.15 L341.64 222.18 L340.63 223.47 L339.62 224.96 L338.61 226.44 L337.60 227.93 L336.59 229.50 L335.59 231.17 L334.58 232.97 L333.57 234.93 L332.56 237.09 L331.55 239.50 L330.54 242.09 L329.53 244.72 L328.53 247.26 L327.52 249.81 L326.51 252.44 L325.50 254.92 L324.49 257.07 L323.48 259.14 L322.47 260.45 L321.47 260.65 L320.46 260.67 L319.45 260.88 L318.44 261.25 L317.43 261.69 L316.42 262.13 L315.41 262.46 L314.41 262.63 L313.40 262.64 L312.39 262.64 L311.38 262.65 L310.37 262.67 L309.36 262.64 L308.35 262.61 L307.34 262.59 L306.34 262.58 L305.33 262.58 L304.32 262.58 L303.31 262.58 L302.30 262.58 L301.29 262.58 L300.28 262.58 L299.28 262.58 L298.27 262.59 L297.26 262.60 L296.25 262.61 L295.24 262.64 L294.23 262.64 L293.22 262.64 L292.22 262.63 L291.21 262.63 L290.20 262.63 L289.19 262.63 L288.18 262.63 L287.17 262.63 L286.16 262.63 L285.16 262.65 L284.15 262.67 L283.14 262.71 L282.13 262.78 L281.12 262.89 L280.11 263.06 L279.10 263.31 L278.09 263.70 L277.09 264.36 L276.08 265.25 L275.07 266.30 L274.06 267.64 L273.05 269.40 L272.04 271.47 L271.03 273.64 L270.03 276.13 L269.02 278.82 L268.01 281.44 L267.00 283.75 L265.99 285.97 L264.98 288.28 L263.97 290.68 L262.97 293.12 L261.96 295.57 L260.95 297.73 L259.94 299.26 L258.93 300.22 L257.92 300.95 L256.91 301.31 L255.91 301.45 L254.90 301.51 L253.89 301.39 L252.88 301.23 L251.87 301.15 L250.86 301.16 L249.85 301.18 L248.84 301.19 L247.84 301.20 L246.83 301.20 L245.82 301.20 L244.81 301.20 L243.80 301.20 L242.79 301.19 L241.78 301.19 L240.78 301.19 L239.77 301.19 L238.76 301.19 L237.75 301.20 L236.74 301.26 L235.73 301.38 L234.72 301.46 L233.72 301.76 L232.71 302.05 L231.70 302.01 L230.69 301.90 L229.68 301.83 L228.67 301.83 L227.66 301.83 L226.66 301.83 L225.65 301.83 L224.64 301.83 L223.63 301.83 L222.62 301.83 L221.61 301.83 L220.60 301.83 L219.59 301.83 L218.59 301.84 L217.58 301.95 L216.57 302.14 L215.56 302.40 L214.55 302.75 L213.54 303.37 L212.53 304.21 L211.53 305.38 L210.52 307.08 L209.51 309.08 L208.50 311.47 L207.49 314.30 L206.48 317.11 L205.47 319.80 L204.47 322.49 L203.46 325.19 L202.45 328.09 L201.44 330.83 L200.43 332.95 L199.42 334.78 L198.41 336.37 L197.41 337.57 L196.40 338.36 L195.39 339.05 L194.38 339.57 L193.37 339.81 L192.36 339.82 L191.35 339.82 L190.34 339.82 L189.34 339.82 L188.33 339.82 L187.32 339.82 L186.31 339.82 L185.30 339.82 L184.29 339.82 L183.28 339.80 L182.28 339.78 L181.27 339.74 L180.26 339.71 L179.25 339.68 L178.24 339.68 L177.23 339.69 L176.22 339.73 L175.22 339.78 L174.21 339.83 L173.20 339.88 L172.19 339.93 L171.18 339.97 L170.17 340.03 L169.16 340.11 L168.16 340.25 L167.15 340.53 L166.14 340.86 L165.13 341.16 L164.12 341.46 L163.11 341.74 L162.10 342.01 L161.09 342.34 L160.09 342.75 L159.08 343.26 L158.07 343.97 L157.06 344.86 L156.05 345.74 L155.04 346.67 L154.03 347.78 L153.03 349.21 L152.02 350.91 L151.01 352.75 L150.00 354.86 L148.99 357.13 L147.98 359.34 L146.97 361.33 L145.97 363.36 L144.96 365.30 L143.95 366.93 L142.94 368.03 L141.93 368.78 L140.92 369.40 L139.91 369.90 L138.91 370.29 L137.90 370.58 L136.89 370.80 L135.88 370.99 L134.87 371.16 L133.86 371.34 L132.85 371.55 L131.84 371.77 L130.84 371.98 L129.83 372.18 L128.82 372.35 L127.81 372.48 L126.80 372.59 L125.79 372.70 L124.78 372.81 L123.78 372.95 L122.77 373.14 L121.76 373.40 L120.75 373.72 L119.74 374.08 L118.73 374.46 L117.72 374.91 L116.72 375.40 L115.71 375.99 L114.70 376.63 L113.69 377.31 L112.68 378.03 L111.67 378.76 L110.66 379.53 L109.66 380.32 L108.65 381.13 L107.64 381.95 L106.63 382.78 L105.62 383.63 L104.61 384.51 L103.60 385.41 L102.59 386.34 L101.59 387.28 L100.58 387.98 L99.57 388.68 L98.56 389.38 L97.55 390.08 L96.54 390.77 L95.53 391.45 L94.53 392.15 L93.52 392.86 L92.51 393.62 L91.50 394.40Z" fill="#2ca02c" fill-opacity="0.2"/>
<path d="M91.50 395.57 L92.51 394.70 L93.52 393.95 L94.53 393.20 L95.53 392.49 L96.54 392.01 L97.55 391.92 L98.56 392.02 L99.57 392.19 L100.58 392.37 L101.59 392.53 L102.59 392.71 L103.60 392.77 L104.61 392.23 L105.62 391.13 L106.63 389.74 L107.64 387.64 L108.65 385.39 L109.66 383.03 L110.66 380.63 L111.67 378.20 L112.68 375.89 L113.69 373.82 L114.70 372.01 L115.71 370.69 L116.72 369.66 L117.72 369.07 L118.73 368.68 L119.74 368.52 L120.75 368.46 L121.76 368.42 L122.77 368.30 L123.78 368.28 L124.78 368.26 L125.79 368.24 L126.80 368.23 L127.81 368.22 L128.82 368.22 L129.83 368.22 L130.84 368.23 L131.84 368.23 L132.85 368.23 L133.86 368.23 L134.87 368.24 L135.88 368.25 L136.89 368.25 L137.90 368.16 L138.91 367.95 L139.91 367.57 L140.92 366.87 L141.93 365.75 L142.94 364.22 L143.95 362.47 L144.96 360.12 L145.97 357.23 L146.97 354.34 L147.98 352.03 L148.99 349.94 L150.00 347.93 L151.01 346.14 L152.02 344.73 L153.03 343.52 L154.03 342.65 L155.04 342.11 L156.05 341.73 L157.06 341.63 L158.07 341.70 L159.08 341.74 L160.09 341.76 L161.09 341.82 L162.10 341.87 L163.11 341.90 L164.12 341.93 L165.13 341.96 L166.14 341.97 L167.15 341.98 L168.16 341.97 L169.16 341.97 L170.17 341.97 L171.18 341.97 L172.19 341.96 L173.20 341.96 L174.21 341.95 L175.22 341.91 L176.22 341.84 L177.23 341.72 L178.24 341.44 L179.25 340.95 L180.26 340.33 L181.27 339.42 L182.28 338.17 L183.28 336.82 L184.29 335.57 L185.30 334.25 L186.31 332.84 L187.32 331.49 L188.33 330.19 L189.34 328.96 L190.34 327.87 L191.35 327.02 L192.36 326.29 L193.37 325.51 L194.38 324.61 L195.39 323.60 L196.40 322.58 L197.41 321.69 L198.41 321.01 L199.42 320.41 L200.43 319.85 L201.44 319.35 L202.45 318.92 L203.46 318.56 L204.47 318.28 L205.47 318.15 L206.48 318.10 L207.49 318.05 L208.50 318.01 L209.51 317.99 L210.52 317.98 L211.53 317.95 L212.53 317.90 L213.54 317.84 L214.55 317.76 L215.56 317.67 L216.57 317.54 L217.58 317.33 L218.59 317.01 L219.59 316.46 L220.60 315.70 L221.61 314.75 L222.62 313.50 L223.63 312.01 L224.64 310.46 L225.65 308.90 L226.66 307.20 L227.66 305.44 L228.67 303.79 L229.68 302.26 L230.69 300.74 L231.70 299.28 L232.71 298.00 L233.72 296.84 L234.72 295.85 L235.73 295.13 L236.74 294.53 L237.75 293.99 L238.76 293.54 L239.77 293.24 L240.78 293.06 L241.78 292.92 L242.79 292.84 L243.80 292.89 L244.81 292.99 L245.82 293.03 L246.83 293.03 L247.84 293.00 L248.84 292.98 L249.85 292.94 L250.86 292.90 L251.87 292.87 L252.88 292.83 L253.89 292.73 L254.90 292.48 L255.91 292.07 L256.91 291.43 L257.92 290.41 L258.93 289.16 L259.94 287.93 L260.95 286.69 L261.96 285.31 L262.97 283.87 L263.97 282.49 L264.98 281.15 L265.99 279.79 L267.00 278.40 L268.01 277.04 L269.02 275.72 L270.03 274.40 L271.03 273.11 L272.04 271.85 L273.05 270.66 L274.06 269.55 L275.07 268.49 L276.08 267.53 L277.09 266.72 L278.09 266.15 L279.10 265.73 L280.11 265.40 L281.12 265.16 L282.13 265.10 L283.14 265.13 L284.15 265.14 L285.16 265.15 L286.16 265.20 L287.17 265.25 L288.18 265.27 L289.19 265.27 L290.20 265.28 L291.21 265.29 L292.22 265.30 L293.22 265.27 L294.23 265.24 L295.24 265.23 L296.25 265.10 L297.26 265.04 L298.27 265.11 L299.28 265.14 L300.28 265.03 L301.29 264.79 L302.30 264.26 L303.31 263.47 L304.32 262.52 L305.33 261.35 L306.34 260.00 L307.34 258.50 L308.35 256.88 L309.36 255.06 L310.37 253.09 L311.38 251.08 L312.39 248.99 L313.40 247.01 L314.41 245.34 L315.41 243.81 L316.42 242.28 L317.43 240.69 L318.44 239.21 L319.45 238.05 L320.46 237.21 L321.47 236.54 L322.47 236.18 L323.48 236.04 L324.49 235.97 L325.50 236.02 L326.51 236.09 L327.52 236.13 L328.53 236.17 L329.53 236.25 L330.54 236.30 L331.55 236.32 L332.56 236.32 L333.57 236.32 L334.58 236.32 L335.59 236.31 L336.59 236.30 L337.60 236.29 L338.61 236.27 L339.62 236.24 L340.63 236.21 L341.64 236.18 L342.65 236.13 L343.66 236.08 L344.66 235.98 L345.67 235.77 L346.68 235.46 L347.69 234.94 L348.70 234.13 L349.71 233.12 L350.72 232.07 L351.72 230.90 L352.73 229.52 L353.74 227.97 L354.75 226.36 L355.76 224.64 L356.77 222.80 L357.78 220.92 L358.78 219.15 L359.79 217.44 L360.80 215.74 L361.81 214.12 L362.82 212.68 L363.83 211.42 L364.84 210.27 L365.84 209.28 L366.85 208.59 L367.86 208.12 L368.87 207.73 L369.88 207.45 L370.89 207.37 L371.90 207.38 L372.90 207.38 L373.91 207.40 L374.92 207.48 L375.93 207.55 L376.94 207.59 L377.95 207.59 L378.96 207.58 L379.97 207.58 L380.97 207.58 L381.98 207.57 L382.99 207.57 L384.00 207.56 L385.01 207.55 L386.02 207.54 L387.03 207.51 L388.03 207.48 L389.04 207.42 L390.05 207.32 L391.06 207.19 L392.07 207.00 L393.08 206.67 L394.09 206.24 L395.09 205.57 L396.10 204.61 L397.11 203.45 L398.12 202.27 L399.13 200.95 L400.14 199.48 L401.15 197.97 L402.15 196.51 L403.16 195.09 L404.17 193.56 L405.18 191.83 L406.19 189.92 L407.20 187.86 L408.21 185.68 L409.22 183.57 L410.22 181.79 L411.23 180.27 L412.24 178.90 L413.25 177.77 L414.26 177.07 L415.27 176.52 L416.28 176.09 L417.28 175.83 L418.29 175.86 L419.30 176.07 L420.31 176.18 L421.32 176.19 L422.33 176.18 L423.34 176.18 L424.34 176.20 L425.35 176.22 L426.36 176.23 L427.37 176.23 L428.38 176.22 L429.39 176.22 L430.40 176.21 L431.40 176.20 L432.41 176.19 L433.42 176.17 L434.43 176.16 L435.44 176.14 L436.45 176.12 L437.46 176.10 L438.47 176.07 L439.47 176.04 L440.48 175.99 L441.49 175.87 L442.50 175.61 L443.51 175.22 L444.52 174.52 L445.53 173.43 L446.53 172.08 L447.54 170.65 L448.55 168.92 L449.56 166.94 L450.57 164.93 L451.58 163.06 L452.59 161.16 L453.59 159.16 L454.60 157.09 L455.61 155.08 L456.62 153.05 L457.63 151.06 L458.64 149.31 L459.65 147.89 L460.65 146.67 L461.66 145.87 L462.67 145.43 L463.68 145.15 L464.69 145.01 L465.70 144.93 L466.71 144.81 L467.72 144.66 L468.72 144.54 L469.73 144.45 L470.74 144.38 L471.75 144.45 L472.76 144.57 L473.77 144.64 L474.78 144.66 L475.78 144.66 L476.79 144.66 L477.80 144.66 L478.81 144.66 L479.82 144.66 L480.83 144.66 L481.84 144.66 L482.84 144.66 L483.85 144.66 L484.86 144.66 L485.87 144.66 L486.88 144.66 L487.89 144.66 L488.90 144.65 L489.90 144.59 L490.91 144.43 L491.92 144.17 L492.93 143.65 L493.94 142.85 L494.95 141.88 L495.96 140.85 L496.97 139.58 L497.97 138.08 L498.98 136.49 L499.99 134.89 L501.00 133.13 L502.01 131.16 L503.02 129.09 L504.03 126.95 L505.03 124.70 L506.04 122.53 L507.05 120.65 L508.06 119.02 L509.07 117.53 L510.08 116.28 L511.09 115.41 L512.09 114.76 L513.10 114.19 L514.11 113.72 L515.12 113.42 L516.13 113.18 L517.14 112.99 L518.15 112.90 L519.15 112.97 L520.16 113.09 L521.17 113.16 L522.18 113.17 L523.19 113.16 L524.20 113.15 L525.21 113.14 L526.22 113.13 L527.22 113.13 L528.23 113.12 L529.24 113.12 L530.25 113.12 L531.26 113.11 L532.27 113.10 L533.28 113.09 L534.28 113.08 L535.29 113.06 L536.30 113.03 L537.31 112.96 L538.32 112.83 L539.33 112.62 L540.34 112.25 L541.34 111.72 L542.35 111.06 L543.36 110.28 L544.37 109.39 L545.38 108.22 L546.39 106.76 L547.40 105.06 L548.40 103.28 L549.41 101.30 L550.42 99.08 L551.43 96.80 L552.44 94.69 L553.45 92.62 L554.46 90.56 L555.47 88.67 L556.47 87.10 L557.48 85.71 L558.49 84.54 L559.50 83.73 L560.51 83.33 L561.52 83.01 L562.53 82.68 L563.53 82.40 L564.54 82.19 L565.55 82.03 L566.56 81.95 L567.57 82.02 L568.58 82.11 L569.59 82.15 L570.59 82.13 L571.60 82.11 L572.61 82.07 L573.62 82.02 L574.63 81.98 L575.64 81.93 L576.65 81.91 L577.65 81.94 L578.66 81.97 L579.67 81.98 L580.68 81.99 L581.69 82.00 L582.70 82.01 L583.71 82.03 L584.72 82.05 L585.72 82.07 L586.73 82.04 L587.74 81.94 L588.75 81.78 L589.76 81.47 L590.77 81.02 L591.78 80.53 L592.78 80.10 L593.79 79.65 L594.80 79.15 L594.80 84.48 L593.79 84.85 L592.78 85.16 L591.78 85.36 L590.77 85.52 L589.76 85.61 L588.75 85.61 L587.74 85.47 L586.73 85.36 L585.72 85.32 L584.72 85.31 L583.71 85.30 L582.70 85.29 L581.69 85.27 L580.68 85.25 L579.67 85.23 L578.66 85.23 L577.65 85.24 L576.65 85.26 L575.64 85.32 L574.63 85.40 L573.62 85.46 L572.61 85.50 L571.60 85.54 L570.59 85.59 L569.59 85.67 L568.58 85.83 L567.57 86.08 L566.56 86.43 L565.55 86.97 L564.54 87.67 L563.53 88.44 L562.53 89.28 L561.52 90.34 L560.51 91.70 L559.50 93.28 L558.49 95.20 L557.48 97.41 L556.47 99.71 L555.47 101.84 L554.46 103.95 L553.45 106.09 L552.44 108.11 L551.43 109.84 L550.42 111.42 L549.41 112.84 L548.40 113.95 L547.40 114.70 L546.39 115.31 L545.38 115.83 L544.37 116.18 L543.36 116.31 L542.35 116.43 L541.34 116.55 L540.34 116.61 L539.33 116.57 L538.32 116.44 L537.31 116.36 L536.30 116.33 L535.29 116.33 L534.28 116.33 L533.28 116.34 L532.27 116.34 L531.26 116.35 L530.25 116.36 L529.24 116.37 L528.23 116.38 L527.22 116.40 L526.22 116.42 L525.21 116.45 L524.20 116.49 L523.19 116.54 L522.18 116.60 L521.17 116.70 L520.16 116.89 L519.15 117.17 L518.15 117.61 L517.14 118.26 L516.13 119.08 L515.12 120.01 L514.11 121.01 L513.10 122.23 L512.09 123.73 L511.09 125.46 L510.08 127.32 L509.07 129.43 L508.06 131.71 L507.05 133.94 L506.04 136.01 L505.03 138.05 L504.03 139.97 L503.02 141.57 L502.01 142.87 L501.00 144.06 L499.99 145.17 L498.98 146.11 L497.97 146.91 L496.97 147.60 L495.96 148.09 L494.95 148.26 L493.94 148.34 L492.93 148.38 L491.92 148.32 L490.91 148.09 L489.90 147.93 L488.90 147.86 L487.89 147.86 L486.88 147.86 L485.87 147.86 L484.86 147.86 L483.85 147.86 L482.84 147.86 L481.84 147.86 L480.83 147.86 L479.82 147.86 L478.81 147.86 L477.80 147.86 L476.79 147.86 L475.78 147.86 L474.78 147.86 L473.77 147.87 L472.76 147.94 L471.75 148.06 L470.74 148.25 L469.73 148.61 L468.72 149.02 L467.72 149.42 L466.71 149.87 L465.70 150.49 L464.69 151.30 L463.68 152.37 L462.67 153.85 L461.66 155.59 L460.65 157.57 L459.65 159.84 L458.64 162.07 L457.63 164.22 L456.62 166.32 L455.61 168.32 L454.60 170.11 L453.59 171.82 L452.59 173.48 L451.58 175.05 L450.57 176.42 L449.56 177.67 L448.55 178.73 L447.54 179.47 L446.53 179.73 L445.53 179.85 L444.52 179.93 L443.51 179.85 L442.50 179.59 L441.49 179.42 L440.48 179.37 L439.47 179.37 L438.47 179.38 L437.46 179.39 L436.45 179.40 L435.44 179.41 L434.43 179.42 L433.42 179.43 L432.41 179.44 L431.40 179.45 L430.40 179.45 L429.39 179.46 L428.38 179.46 L427.37 179.48 L426.36 179.49 L425.35 179.53 L424.34 179.58 L423.34 179.66 L422.33 179.78 L421.32 179.95 L420.31 180.21 L419.30 180.64 L418.29 181.22 L417.28 182.12 L416.28 183.38 L415.27 184.90 L414.26 186.56 L413.25 188.24 L412.24 190.21 L411.23 192.42 L410.22 194.60 L409.22 196.59 L408.21 198.54 L407.20 200.33 L406.19 201.81 L405.18 203.00 L404.17 204.13 L403.16 205.29 L402.15 206.45 L401.15 207.59 L400.14 208.66 L399.13 209.56 L398.12 210.21 L397.11 210.59 L396.10 210.87 L395.09 211.06 L394.09 211.06 L393.08 210.91 L392.07 210.83 L391.06 210.82 L390.05 210.83 L389.04 210.82 L388.03 210.81 L387.03 210.80 L386.02 210.79 L385.01 210.79 L384.00 210.80 L382.99 210.80 L381.98 210.81 L380.97 210.82 L379.97 210.83 L378.96 210.84 L377.95 210.86 L376.94 210.89 L375.93 210.96 L374.92 211.09 L373.91 211.29 L372.90 211.63 L371.90 212.14 L370.89 212.78 L369.88 213.54 L368.87 214.56 L367.86 215.82 L366.85 217.20 L365.84 218.69 L364.84 220.38 L363.83 222.20 L362.82 224.00 L361.81 225.75 L360.80 227.55 L359.79 229.36 L358.78 231.05 L357.78 232.59 L356.77 234.06 L355.76 235.41 L354.75 236.53 L353.74 237.40 L352.73 238.17 L351.72 238.83 L350.72 239.31 L349.71 239.58 L348.70 239.78 L347.69 239.89 L346.68 239.80 L345.67 239.61 L344.66 239.50 L343.66 239.48 L342.65 239.50 L341.64 239.51 L340.63 239.52 L339.62 239.53 L338.61 239.53 L337.60 239.53 L336.59 239.54 L335.59 239.54 L334.58 239.54 L333.57 239.54 L332.56 239.54 L331.55 239.55 L330.54 239.58 L329.53 239.64 L328.53 239.75 L327.52 239.96 L326.51 240.32 L325.50 240.80 L324.49 241.42 L323.48 242.37 L322.47 243.56 L321.47 244.97 L320.46 246.67 L319.45 248.49 L318.44 250.33 L317.43 252.23 L316.42 254.11 L315.41 255.91 L314.41 257.70 L313.40 259.52 L312.39 261.46 L311.38 263.31 L310.37 264.74 L309.36 265.86 L308.35 266.80 L307.34 267.58 L306.34 268.22 L305.33 268.69 L304.32 269.00 L303.31 269.07 L302.30 269.01 L301.29 268.96 L300.28 268.81 L299.28 268.61 L298.27 268.50 L297.26 268.48 L296.25 268.49 L295.24 268.56 L294.23 268.56 L293.22 268.53 L292.22 268.50 L291.21 268.51 L290.20 268.52 L289.19 268.54 L288.18 268.58 L287.17 268.65 L286.16 268.75 L285.16 268.91 L284.15 269.18 L283.14 269.58 L282.13 270.10 L281.12 270.73 L280.11 271.58 L279.10 272.62 L278.09 273.73 L277.09 274.91 L276.08 276.22 L275.07 277.62 L274.06 279.01 L273.05 280.33 L272.04 281.67 L271.03 283.04 L270.03 284.43 L269.02 285.80 L268.01 287.12 L267.00 288.43 L265.99 289.73 L264.98 291.00 L263.97 292.19 L262.97 293.28 L261.96 294.32 L260.95 295.24 L259.94 295.92 L258.93 296.35 L257.92 296.67 L256.91 296.83 L255.91 296.68 L254.90 296.42 L253.89 296.27 L252.88 296.24 L251.87 296.26 L250.86 296.28 L249.85 296.32 L248.84 296.37 L247.84 296.42 L246.83 296.47 L245.82 296.55 L244.81 296.70 L243.80 296.95 L242.79 297.31 L241.78 297.86 L240.78 298.56 L239.77 299.33 L238.76 300.20 L237.75 301.22 L236.74 302.42 L235.73 303.75 L234.72 305.12 L233.72 306.70 L232.71 308.40 L231.70 310.02 L230.69 311.60 L229.68 313.17 L228.67 314.67 L227.66 316.06 L226.66 317.39 L225.65 318.56 L224.64 319.42 L223.63 320.04 L222.62 320.54 L221.61 320.86 L220.60 320.88 L219.59 320.78 L218.59 320.70 L217.58 320.60 L216.57 320.52 L215.56 320.49 L214.55 320.49 L213.54 320.51 L212.53 320.54 L211.53 320.57 L210.52 320.63 L209.51 320.73 L208.50 320.88 L207.49 321.12 L206.48 321.45 L205.47 321.87 L204.47 322.38 L203.46 323.02 L202.45 323.76 L201.44 324.51 L200.43 325.28 L199.42 326.14 L198.41 327.10 L197.41 328.09 L196.40 329.13 L195.39 330.17 L194.38 331.12 L193.37 331.98 L192.36 332.90 L191.35 334.00 L190.34 335.32 L189.34 336.77 L188.33 338.22 L187.32 339.49 L186.31 340.57 L185.30 341.59 L184.29 342.50 L183.28 343.17 L182.28 343.67 L181.27 344.03 L180.26 344.09 L179.25 343.88 L178.24 343.71 L177.23 343.63 L176.22 343.56 L175.22 343.49 L174.21 343.46 L173.20 343.45 L172.19 343.44 L171.18 343.44 L170.17 343.44 L169.16 343.44 L168.16 343.43 L167.15 343.43 L166.14 343.43 L165.13 343.44 L164.12 343.47 L163.11 343.54 L162.10 343.68 L161.09 343.89 L160.09 344.17 L159.08 344.63 L158.07 345.32 L157.06 346.22 L156.05 347.41 L155.04 349.05 L154.03 350.91 L153.03 352.96 L152.02 355.24 L151.01 357.57 L150.00 359.94 L148.99 362.40 L147.98 364.75 L146.97 366.72 L145.97 368.49 L144.96 369.90 L143.95 370.57 L142.94 370.44 L141.93 370.28 L140.92 370.22 L139.91 370.15 L138.91 369.91 L137.90 369.69 L136.89 369.58 L135.88 369.56 L134.87 369.55 L133.86 369.54 L132.85 369.52 L131.84 369.51 L130.84 369.49 L129.83 369.48 L128.82 369.48 L127.81 369.50 L126.80 369.52 L125.79 369.56 L124.78 369.59 L123.78 369.62 L122.77 369.66 L121.76 369.60 L120.75 369.63 L119.74 369.68 L118.73 369.84 L117.72 370.22 L116.72 370.81 L115.71 371.83 L114.70 373.15 L113.69 374.95 L112.68 377.01 L111.67 379.32 L110.66 381.74 L109.66 384.14 L108.65 386.49 L107.64 388.73 L106.63 390.83 L105.62 392.22 L104.61 393.31 L103.60 393.85 L102.59 393.78 L101.59 393.59 L100.58 393.42 L99.57 393.24 L98.56 393.06 L97.55 392.95 L96.54 393.04 L95.53 393.51 L94.53 394.22 L93.52 394.96 L92.51 395.71 L91.50 396.57Z" fill="#d62728" fill-opacity="0.2"/>
<path d="M91.50 397.17 L92.51 396.17 L93.52 395.20 L94.53 394.25 L95.53 393.31 L96.54 392.38 L97.55 391.46 L98.56 390.55 L99.57 389.64 L100.58 388.80 L101.59 387.92 L102.59 387.01 L103.60 386.07 L104.61 385.10 L105.62 384.10 L106.63 383.08 L107.64 382.03 L108.65 380.95 L109.66 379.82 L110.66 378.66 L111.67 377.53 L112.68 376.54 L113.69 375.57 L114.70 374.64 L115.71 373.73 L116.72 372.84 L117.72 371.97 L118.73 371.14 L119.74 370.39 L120.75 369.70 L121.76 369.06 L122.77 368.46 L123.78 367.90 L124.78 367.39 L125.79 366.91 L126.80 366.45 L127.81 365.98 L128.82 365.48 L129.83 365.07 L130.84 364.67 L131.84 364.24 L132.85 363.78 L133.86 363.25 L134.87 362.63 L135.88 361.91 L136.89 361.13 L137.90 360.31 L138.91 359.46 L139.91 358.61 L140.92 357.72 L141.93 356.80 L142.94 355.84 L143.95 354.84 L144.96 354.05 L145.97 353.22 L146.97 352.32 L147.98 351.36 L148.99 350.37 L150.00 349.37 L151.01 348.38 L152.02 347.39 L153.03 346.53 L154.03 345.66 L155.04 344.83 L156.05 344.11 L157.06 343.54 L158.07 343.08 L159.08 342.68 L160.09 342.34 L161.09 341.76 L162.10 341.21 L163.11 340.68 L164.12 340.19 L165.13 339.75 L166.14 339.33 L167.15 338.91 L168.16 338.49 L169.16 338.06 L170.17 337.65 L171.18 337.22 L172.19 336.77 L173.20 336.40 L174.21 336.00 L175.22 335.57 L176.22 335.12 L177.23 334.64 L178.24 334.11 L179.25 333.55 L180.26 333.01 L181.27 332.53 L182.28 332.12 L183.28 331.53 L184.29 330.92 L185.30 330.25 L186.31 329.51 L187.32 328.76 L188.33 328.01 L189.34 327.31 L190.34 326.66 L191.35 326.04 L192.36 325.44 L193.37 324.86 L194.38 324.30 L195.39 323.76 L196.40 323.25 L197.41 322.75 L198.41 322.27 L199.42 321.82 L200.43 321.39 L201.44 320.99 L202.45 320.58 L203.46 320.14 L204.47 319.67 L205.47 318.86 L206.48 318.01 L207.49 317.13 L208.50 316.20 L209.51 315.19 L210.52 314.10 L211.53 312.73 L212.53 311.35 L213.54 309.98 L214.55 308.60 L215.56 307.19 L216.57 305.81 L217.58 304.50 L218.59 303.60 L219.59 302.77 L220.60 301.98 L221.61 301.22 L222.62 300.46 L223.63 299.69 L224.64 298.96 L225.65 298.23 L226.66 297.47 L227.66 296.68 L228.67 295.84 L229.68 294.98 L230.69 294.06 L231.70 293.09 L232.71 292.05 L233.72 290.84 L234.72 289.55 L235.73 288.27 L236.74 286.85 L237.75 285.41 L238.76 283.99 L239.77 282.60 L240.78 281.26 L241.78 279.93 L242.79 278.63 L243.80 277.34 L244.81 276.05 L245.82 274.77 L246.83 273.49 L247.84 272.25 L248.84 271.06 L249.85 269.95 L250.86 269.26 L251.87 268.62 L252.88 267.98 L253.89 267.29 L254.90 266.53 L255.91 265.70 L256.91 264.85 L257.92 263.98 L258.93 263.13 L259.94 262.30 L260.95 261.47 L261.96 260.65 L262.97 259.80 L263.97 259.34 L264.98 258.83 L265.99 258.31 L267.00 257.76 L268.01 257.22 L269.02 256.69 L270.03 256.13 L271.03 255.57 L272.04 255.04 L273.05 254.57 L274.06 254.16 L275.07 253.36 L276.08 252.60 L277.09 251.88 L278.09 251.22 L279.10 250.64 L280.11 250.12 L281.12 249.62 L282.13 249.07 L283.14 248.43 L284.15 247.63 L285.16 246.73 L286.16 245.81 L287.17 244.94 L288.18 244.20 L289.19 243.52 L290.20 242.88 L291.21 242.26 L292.22 241.66 L293.22 241.06 L294.23 240.47 L295.24 239.86 L296.25 239.23 L297.26 238.57 L298.27 237.88 L299.28 237.18 L300.28 236.48 L301.29 235.78 L302.30 235.08 L303.31 234.35 L304.32 233.58 L305.33 232.73 L306.34 231.78 L307.34 230.91 L308.35 230.07 L309.36 229.31 L310.37 228.64 L311.38 228.00 L312.39 227.40 L313.40 226.83 L314.41 226.27 L315.41 225.73 L316.42 225.22 L317.43 224.74 L318.44 224.29 L319.45 223.89 L320.46 223.50 L321.47 223.12 L322.47 222.72 L323.48 222.28 L324.49 221.81 L325.50 221.30 L326.51 221.00 L327.52 220.70 L328.53 220.43 L329.53 220.20 L330.54 220.00 L331.55 219.81 L332.56 219.59 L333.57 219.33 L334.58 219.03 L335.59 218.70 L336.59 218.38 L337.60 218.07 L338.61 217.75 L339.62 217.28 L340.63 216.84 L341.64 216.41 L342.65 216.02 L343.66 215.63 L344.66 215.27 L345.67 214.93 L346.68 214.61 L347.69 214.33 L348.70 214.26 L349.71 214.21 L350.72 214.15 L351.72 214.05 L352.73 213.89 L353.74 213.71 L354.75 213.53 L355.76 213.39 L356.77 213.31 L357.78 213.29 L358.78 213.14 L359.79 212.99 L360.80 212.84 L361.81 212.65 L362.82 212.43 L363.83 212.20 L364.84 212.00 L365.84 211.83 L366.85 211.69 L367.86 211.56 L368.87 211.26 L369.88 210.98 L370.89 210.73 L371.90 210.52 L372.90 210.33 L373.91 210.15 L374.92 209.95 L375.93 209.71 L376.94 209.43 L377.95 209.12 L378.96 208.77 L379.97 208.38 L380.97 207.95 L381.98 207.48 L382.99 206.97 L384.00 206.41 L385.01 205.77 L386.02 205.05 L387.03 204.30 L388.03 203.54 L389.04 202.78 L390.05 201.99 L391.06 201.19 L392.07 200.36 L393.08 199.51 L394.09 198.63 L395.09 197.61 L396.10 196.57 L397.11 195.56 L398.12 194.59 L399.13 193.67 L400.14 192.77 L401.15 191.88 L402.15 190.98 L403.16 190.07 L404.17 189.20 L405.18 188.23 L406.19 186.93 L407.20 185.20 L408.21 183.27 L409.22 181.41 L410.22 179.88 L411.23 178.73 L412.24 177.71 L413.25 176.79 L414.26 175.89 L415.27 174.97 L416.28 174.05 L417.28 173.16 L418.29 172.28 L419.30 171.42 L420.31 170.59 L421.32 169.78 L422.33 168.98 L423.34 168.19 L424.34 167.42 L425.35 166.65 L426.36 165.89 L427.37 165.15 L428.38 164.44 L429.39 163.75 L430.40 163.10 L431.40 162.47 L432.41 161.84 L433.42 161.21 L434.43 160.56 L435.44 159.88 L436.45 159.21 L437.46 158.55 L438.47 157.91 L439.47 157.30 L440.48 156.79 L441.49 156.29 L442.50 155.80 L443.51 155.32 L444.52 154.85 L445.53 154.39 L446.53 153.95 L447.54 153.53 L448.55 153.14 L449.56 152.79 L450.57 152.45 L451.58 152.12 L452.59 151.79 L453.59 151.45 L454.60 151.12 L455.61 150.79 L456.62 150.44 L457.63 150.07 L458.64 149.69 L459.65 149.31 L460.65 148.89 L461.66 148.40 L462.67 147.79 L463.68 146.84 L464.69 145.92 L465.70 145.29 L466.71 144.76 L467.72 144.45 L468.72 144.17 L469.73 143.89 L470.74 143.62 L471.75 143.39 L472.76 143.15 L473.77 142.89 L474.78 142.58 L475.78 142.23 L476.79 141.85 L477.80 141.43 L478.81 140.98 L479.82 140.48 L480.83 139.90 L481.84 139.28 L482.84 138.64 L483.85 138.02 L484.86 137.41 L485.87 136.63 L486.88 135.85 L487.89 135.09 L488.90 134.37 L489.90 133.68 L490.91 133.02 L491.92 132.37 L492.93 131.72 L493.94 131.04 L494.95 130.36 L495.96 129.68 L496.97 128.97 L497.97 128.23 L498.98 127.41 L499.99 126.53 L501.00 125.38 L502.01 124.22 L503.02 123.08 L504.03 121.96 L505.03 120.84 L506.04 119.72 L507.05 118.59 L508.06 117.72 L509.07 116.84 L510.08 115.96 L511.09 115.08 L512.09 114.21 L513.10 113.33 L514.11 112.49 L515.12 111.66 L516.13 110.79 L517.14 109.85 L518.15 108.73 L519.15 107.44 L520.16 106.19 L521.17 105.17 L522.18 104.28 L523.19 103.48 L524.20 102.76 L525.21 102.13 L526.22 101.57 L527.22 101.06 L528.23 100.58 L529.24 100.09 L530.25 99.60 L531.26 99.15 L532.27 98.69 L533.28 98.20 L534.28 97.65 L535.29 96.99 L536.30 96.25 L537.31 95.46 L538.32 94.66 L539.33 93.88 L540.34 93.08 L541.34 92.27 L542.35 91.46 L543.36 90.64 L544.37 89.83 L545.38 89.03 L546.39 88.30 L547.40 87.58 L548.40 86.86 L549.41 86.13 L550.42 85.41 L551.43 84.69 L552.44 83.96 L553.45 83.24 L554.46 82.49 L555.47 81.73 L556.47 80.99 L557.48 80.29 L558.49 79.58 L559.50 78.89 L560.51 78.23 L561.52 77.63 L562.53 77.12 L563.53 76.72 L564.54 76.40 L565.55 76.12 L566.56 75.85 L567.57 75.54 L568.58 75.22 L569.59 74.90 L570.59 74.55 L571.60 74.15 L572.61 73.67 L573.62 72.94 L574.63 72.11 L575.64 71.36 L576.65 70.62 L577.65 69.91 L578.66 69.29 L579.67 68.76 L580.68 68.28 L581.69 67.84 L582.70 67.43 L583.71 67.06 L584.72 66.72 L585.72 66.42 L586.73 66.13 L587.74 65.83 L588.75 65.53 L589.76 65.23 L590.77 64.93 L591.78 64.62 L592.78 64.30 L593.79 63.96 L594.80 63.61 L594.80 68.41 L593.79 68.75 L592.78 69.08 L591.78 69.39 L590.77 69.69 L589.76 69.98 L588.75 70.27 L587.74 70.56 L586.73 70.84 L585.72 71.12 L584.72 71.41 L583.71 71.74 L582.70 72.10 L581.69 72.50 L580.68 72.93 L579.67 73.40 L578.66 73.92 L577.65 74.52 L576.65 75.22 L575.64 75.95 L574.63 76.70 L573.62 77.52 L572.61 78.23 L571.60 78.70 L570.59 79.09 L569.59 79.43 L568.58 79.74 L567.57 80.05 L566.56 80.34 L565.55 80.61 L564.54 80.88 L563.53 81.19 L562.53 81.57 L561.52 82.07 L560.51 82.66 L559.50 83.31 L558.49 83.99 L557.48 84.69 L556.47 85.55 L555.47 86.46 L554.46 87.39 L553.45 88.31 L552.44 89.20 L551.43 90.09 L550.42 90.98 L549.41 91.87 L548.40 92.76 L547.40 93.65 L546.39 94.54 L545.38 95.43 L544.37 96.23 L543.36 97.04 L542.35 97.86 L541.34 98.67 L540.34 99.48 L539.33 100.28 L538.32 101.06 L537.31 101.86 L536.30 102.65 L535.29 103.39 L534.28 104.05 L533.28 104.60 L532.27 105.09 L531.26 105.55 L530.25 106.00 L529.24 106.49 L528.23 106.98 L527.22 107.46 L526.22 107.97 L525.21 108.53 L524.20 109.16 L523.19 109.88 L522.18 110.68 L521.17 111.57 L520.16 112.59 L519.15 113.84 L518.15 115.13 L517.14 116.25 L516.13 117.25 L515.12 118.18 L514.11 119.07 L513.10 119.97 L512.09 120.91 L511.09 121.84 L510.08 122.78 L509.07 123.72 L508.06 124.66 L507.05 125.59 L506.04 126.29 L505.03 126.98 L504.03 127.67 L503.02 128.37 L502.01 129.08 L501.00 129.81 L499.99 130.53 L498.98 131.41 L497.97 132.23 L496.97 132.97 L495.96 133.68 L494.95 134.36 L493.94 135.04 L492.93 135.72 L491.92 136.37 L490.91 137.02 L489.90 137.68 L488.90 138.37 L487.89 139.09 L486.88 139.85 L485.87 140.63 L484.86 141.41 L483.85 142.35 L482.84 143.31 L481.84 144.28 L480.83 145.24 L479.82 146.14 L478.81 146.98 L477.80 147.77 L476.79 148.52 L475.78 149.23 L474.78 149.91 L473.77 150.55 L472.76 151.15 L471.75 151.72 L470.74 152.29 L469.73 152.89 L468.72 153.50 L467.72 154.12 L466.71 154.76 L465.70 155.29 L464.69 155.92 L463.68 156.84 L462.67 157.79 L461.66 158.40 L460.65 158.89 L459.65 159.31 L458.64 159.69 L457.63 160.07 L456.62 160.44 L455.61 160.79 L454.60 161.12 L453.59 161.45 L452.59 161.79 L451.58 162.12 L450.57 162.45 L449.56 162.79 L448.55 163.14 L447.54 163.53 L446.53 163.95 L445.53 164.39 L444.52 164.85 L443.51 165.32 L442.50 165.80 L441.49 166.29 L440.48 166.79 L439.47 167.30 L438.47 167.76 L437.46 168.25 L436.45 168.76 L435.44 169.28 L434.43 169.81 L433.42 170.31 L432.41 170.79 L431.40 171.27 L430.40 171.75 L429.39 172.25 L428.38 172.79 L427.37 173.35 L426.36 173.94 L425.35 174.55 L424.34 175.17 L423.34 175.79 L422.33 176.43 L421.32 177.08 L420.31 177.74 L419.30 178.42 L418.29 179.08 L417.28 179.76 L416.28 180.45 L415.27 181.17 L414.26 181.89 L413.25 182.59 L412.24 183.31 L411.23 184.13 L410.22 185.08 L409.22 186.41 L408.21 188.07 L407.20 189.80 L406.19 191.33 L405.18 192.43 L404.17 193.20 L403.16 193.87 L402.15 194.58 L401.15 195.28 L400.14 195.97 L399.13 196.67 L398.12 197.39 L397.11 198.16 L396.10 198.97 L395.09 199.81 L394.09 200.63 L393.08 201.51 L392.07 202.36 L391.06 203.19 L390.05 203.99 L389.04 204.78 L388.03 205.54 L387.03 206.30 L386.02 207.05 L385.01 207.77 L384.00 208.41 L382.99 208.97 L381.98 209.48 L380.97 209.95 L379.97 210.38 L378.96 210.77 L377.95 211.12 L376.94 211.43 L375.93 211.71 L374.92 211.95 L373.91 212.15 L372.90 212.33 L371.90 212.52 L370.89 212.73 L369.88 212.98 L368.87 213.26 L367.86 213.56 L366.85 214.09 L365.84 214.63 L364.84 215.20 L363.83 215.80 L362.82 216.43 L361.81 217.05 L360.80 217.64 L359.79 218.19 L358.78 218.74 L357.78 219.29 L356.77 220.01 L355.76 220.79 L354.75 221.63 L353.74 222.51 L352.73 223.39 L351.72 224.25 L350.72 225.05 L349.71 225.81 L348.70 226.56 L347.69 227.33 L346.68 227.94 L345.67 228.59 L344.66 229.27 L343.66 229.97 L342.65 230.68 L341.64 231.41 L340.63 232.17 L339.62 232.95 L338.61 233.75 L337.60 234.68 L336.59 235.62 L335.59 236.55 L334.58 237.49 L333.57 238.41 L332.56 239.29 L331.55 240.11 L330.54 240.92 L329.53 241.73 L328.53 242.58 L327.52 243.47 L326.51 244.39 L325.50 245.30 L324.49 246.00 L323.48 246.66 L322.47 247.29 L321.47 247.88 L320.46 248.45 L319.45 249.03 L318.44 249.62 L317.43 250.25 L316.42 250.92 L315.41 251.63 L314.41 252.35 L313.40 253.10 L312.39 253.87 L311.38 254.65 L310.37 255.48 L309.36 256.34 L308.35 257.29 L307.34 258.33 L306.34 259.38 L305.33 260.28 L304.32 261.09 L303.31 261.82 L302.30 262.51 L301.29 263.17 L300.28 263.82 L299.28 264.49 L298.27 265.15 L297.26 265.79 L296.25 266.41 L295.24 267.00 L294.23 267.56 L293.22 268.12 L292.22 268.67 L291.21 269.23 L290.20 269.81 L289.19 270.41 L288.18 271.04 L287.17 271.74 L286.16 272.51 L285.16 273.34 L284.15 274.15 L283.14 274.86 L282.13 275.41 L281.12 275.86 L280.11 276.27 L279.10 276.70 L278.09 277.19 L277.09 277.76 L276.08 278.38 L275.07 279.05 L274.06 279.76 L273.05 280.93 L272.04 282.17 L271.03 283.46 L270.03 284.79 L269.02 286.11 L268.01 287.40 L267.00 288.71 L265.99 290.01 L264.98 291.31 L263.97 292.57 L262.97 293.80 L261.96 294.59 L260.95 295.35 L259.94 296.11 L258.93 296.88 L257.92 297.67 L256.91 298.48 L255.91 299.27 L254.90 300.03 L253.89 300.74 L252.88 301.36 L251.87 301.94 L250.86 302.52 L249.85 303.15 L248.84 303.51 L247.84 303.96 L246.83 304.46 L245.82 305.00 L244.81 305.54 L243.80 306.08 L242.79 306.63 L241.78 307.22 L240.78 307.83 L239.77 308.46 L238.76 309.13 L237.75 309.84 L236.74 310.56 L235.73 311.27 L234.72 312.05 L233.72 312.84 L232.71 313.55 L231.70 314.09 L230.69 314.56 L229.68 314.98 L228.67 315.34 L227.66 315.68 L226.66 315.97 L225.65 316.23 L224.64 316.46 L223.63 316.69 L222.62 316.96 L221.61 317.22 L220.60 317.48 L219.59 317.77 L218.59 318.10 L217.58 318.50 L216.57 318.67 L215.56 318.91 L214.55 319.17 L213.54 319.41 L212.53 319.63 L211.53 319.87 L210.52 320.10 L209.51 320.53 L208.50 320.87 L207.49 321.13 L206.48 321.35 L205.47 321.52 L204.47 321.67 L203.46 322.14 L202.45 322.58 L201.44 322.99 L200.43 323.39 L199.42 323.82 L198.41 324.27 L197.41 324.75 L196.40 325.25 L195.39 325.76 L194.38 326.30 L193.37 326.86 L192.36 327.44 L191.35 328.04 L190.34 328.66 L189.34 329.31 L188.33 330.01 L187.32 330.76 L186.31 331.51 L185.30 332.25 L184.29 332.92 L183.28 333.53 L182.28 334.12 L181.27 334.93 L180.26 335.81 L179.25 336.75 L178.24 337.71 L177.23 338.64 L176.22 339.52 L175.22 340.37 L174.21 341.20 L173.20 342.00 L172.19 342.77 L171.18 343.39 L170.17 343.98 L169.16 344.56 L168.16 345.15 L167.15 345.75 L166.14 346.33 L165.13 346.91 L164.12 347.52 L163.11 348.18 L162.10 348.87 L161.09 349.59 L160.09 350.34 L159.08 351.43 L158.07 352.58 L157.06 353.79 L156.05 355.11 L155.04 356.58 L154.03 358.16 L153.03 359.78 L152.02 361.39 L151.01 362.78 L150.00 364.17 L148.99 365.57 L147.98 366.96 L146.97 368.32 L145.97 369.62 L144.96 370.85 L143.95 372.04 L142.94 372.96 L141.93 373.84 L140.92 374.68 L139.91 375.49 L138.91 376.26 L137.90 377.03 L136.89 377.77 L135.88 378.47 L134.87 379.11 L133.86 379.65 L132.85 380.10 L131.84 380.48 L130.84 380.83 L129.83 381.15 L128.82 381.48 L127.81 381.71 L126.80 381.91 L125.79 382.10 L124.78 382.31 L123.78 382.55 L122.77 382.83 L121.76 383.16 L120.75 383.54 L119.74 383.95 L118.73 384.43 L117.72 384.99 L116.72 385.59 L115.71 386.21 L114.70 386.85 L113.69 387.51 L112.68 388.21 L111.67 388.93 L110.66 389.61 L109.66 390.32 L108.65 391.00 L107.64 391.63 L106.63 392.23 L105.62 392.80 L104.61 393.35 L103.60 393.87 L102.59 394.36 L101.59 394.82 L100.58 395.25 L99.57 395.64 L98.56 395.92 L97.55 396.21 L96.54 396.50 L95.53 396.81 L94.53 397.12 L93.52 397.45 L92.51 397.80 L91.50 398.17Z" fill="#9467bd" fill-opacity="0.2"/>
<g stroke="#b0b0b0" stroke-width="1.111" fill="none">
<line x1="91.5" y1="10.5" x2="91.5" y2="417.5"/>
<line x1="192.5" y1="10.5" x2="192.5" y2="417.5"/>
<line x1="293.5" y1="10.5" x2="293.5" y2="417.5"/>
<line x1="394.5" y1="10.5" x2="394.5" y2="417.5"/>
<line x1="495.5" y1="10.5" x2="495.5" y2="417.5"/>
<line x1="596.5" y1="10.5" x2="596.5" y2="417.5"/>
<line x1="66.5" y1="398.5" x2="620.5" y2="398.5"/>
<line x1="66.5" y1="346.5" x2="620.5" y2="346.5"/>
<line x1="66.5" y1="293.5" x2="620.5" y2="293.5"/>
<line x1="66.5" y1="241.5" x2="620.5" y2="241.5"/>
<line x1="66.5" y1="188.5" x2="620.5" y2="188.5"/>
<line x1="66.5" y1="136.5" x2="620.5" y2="136.5"/>
<line x1="66.5" y1="84.5" x2="620.5" y2="84.5"/>
<line x1="66.5" y1="31.5" x2="620.5" y2="31.5"/>
</g>
<g fill="none" stroke-width="2.083" stroke-linejoin="round" stroke-linecap="square">
<path d="M91.50 396.07 L92.51 395.20 L93.52 394.46 L94.53 393.71 L95.53 393.00 L96.54 392.52 L97.55 392.43 L98.56 392.54 L99.57 392.72 L100.58 392.90 L101.59 393.06 L102.59 393.24 L103.60 393.31 L104.61 392.77 L105.62 391.67 L106.63 390.29 L107.64 388.18 L108.65 385.94 L109.66 383.58 L110.66 381.19 L111.67 378.76 L112.68 376.45 L113.69 374.38 L114.70 372.58 L115.71 371.26 L116.72 370.23 L117.72 369.64 L118.73 369.26 L119.74 369.10 L120.75 369.04 L121.76 369.01 L122.77 368.98 L123.78 368.95 L124.78 368.92 L125.79 368.90 L126.80 368.87 L127.81 368.86 L128.82 368.85 L129.83 368.85 L130.84 368.86 L131.84 368.87 L132.85 368.88 L133.86 368.89 L134.87 368.90 L135.88 368.91 L136.89 368.92 L137.90 368.92 L138.91 368.93 L139.91 368.86 L140.92 368.54 L141.93 368.01 L142.94 367.33 L143.95 366.52 L144.96 365.01 L145.97 362.86 L146.97 360.53 L147.98 358.49 L148.99 356.37 L150.00 354.24 L151.01 352.26 L152.02 350.49 L153.03 348.84 L154.03 347.48 L155.04 346.38 L156.05 345.47 L157.06 344.93 L158.07 344.61 L159.08 344.39 L160.09 344.27 L161.09 344.25 L162.10 344.27 L163.11 344.22 L164.12 344.20 L165.13 344.20 L166.14 344.20 L167.15 344.20 L168.16 344.20 L169.16 344.20 L170.17 344.20 L171.18 344.20 L172.19 344.20 L173.20 344.20 L174.21 344.20 L175.22 344.20 L176.22 344.20 L177.23 344.20 L178.24 344.20 L179.25 344.15 L180.26 343.99 L181.27 344.17 L182.28 343.74 L183.28 342.55 L184.29 340.42 L185.30 338.36 L186.31 336.17 L187.32 334.06 L188.33 332.08 L189.34 330.18 L190.34 328.41 L191.35 326.73 L192.36 325.18 L193.37 323.81 L194.38 322.54 L195.39 321.44 L196.40 320.59 L197.41 319.82 L198.41 319.25 L199.42 319.05 L200.43 318.96 L201.44 318.91 L202.45 318.90 L203.46 318.95 L204.47 319.04 L205.47 319.25 L206.48 319.20 L207.49 319.20 L208.50 319.20 L209.51 319.20 L210.52 319.20 L211.53 319.20 L212.53 319.20 L213.54 319.20 L214.55 319.20 L215.56 319.20 L216.57 319.14 L217.58 319.08 L218.59 319.01 L219.59 319.09 L220.60 319.01 L221.61 318.75 L222.62 318.15 L223.63 317.12 L224.64 315.90 L225.65 314.42 L226.66 312.64 L227.66 310.66 L228.67 308.67 L229.68 306.67 L230.69 304.77 L231.70 302.93 L232.71 301.40 L233.72 300.11 L234.72 298.99 L235.73 298.08 L236.74 297.43 L237.75 296.87 L238.76 296.50 L239.77 296.37 L240.78 296.29 L241.78 296.24 L242.79 296.19 L243.80 296.15 L244.81 296.15 L245.82 296.15 L246.83 296.15 L247.84 296.15 L248.84 296.15 L249.85 296.15 L250.86 296.15 L251.87 296.15 L252.88 296.15 L253.89 296.15 L254.90 296.10 L255.91 296.05 L256.91 296.00 L257.92 295.91 L258.93 295.60 L259.94 294.56 L260.95 293.27 L261.96 291.64 L262.97 289.73 L263.97 287.80 L264.98 285.76 L265.99 283.68 L267.00 281.62 L268.01 279.54 L269.02 277.52 L270.03 275.62 L271.03 273.75 L272.04 272.10 L273.05 270.84 L274.06 269.79 L275.07 269.13 L276.08 268.76 L277.09 268.53 L278.09 268.46 L279.10 268.42 L280.11 268.40 L281.12 268.40 L282.13 268.40 L283.14 268.40 L284.15 268.40 L285.16 268.40 L286.16 268.40 L287.17 268.40 L288.18 268.40 L289.19 268.40 L290.20 268.40 L291.21 268.40 L292.22 268.40 L293.22 268.40 L294.23 268.40 L295.24 268.40 L296.25 268.40 L297.26 268.40 L298.27 268.40 L299.28 268.35 L300.28 268.26 L301.29 268.33 L302.30 268.42 L303.31 268.32 L304.32 267.86 L305.33 267.12 L306.34 265.94 L307.34 264.41 L308.35 262.59 L309.36 260.39 L310.37 257.80 L311.38 254.93 L312.39 252.41 L313.40 250.01 L314.41 247.50 L315.41 245.17 L316.42 243.23 L317.43 241.67 L318.44 240.67 L319.45 240.02 L320.46 239.71 L321.47 239.50 L322.47 239.45 L323.48 239.44 L324.49 239.43 L325.50 239.43 L326.51 239.42 L327.52 239.42 L328.53 239.42 L329.53 239.42 L330.54 239.42 L331.55 239.42 L332.56 239.42 L333.57 239.42 L334.58 239.42 L335.59 239.42 L336.59 239.42 L337.60 239.42 L338.61 239.42 L339.62 239.42 L340.63 239.41 L341.64 239.40 L342.65 239.39 L343.66 239.36 L344.66 239.33 L345.67 239.29 L346.68 239.23 L347.69 239.16 L348.70 238.98 L349.71 238.40 L350.72 237.59 L351.72 236.64 L352.73 235.34 L353.74 233.82 L354.75 232.12 L355.76 230.10 L356.77 227.92 L357.78 225.76 L358.78 223.50 L359.79 221.27 L360.80 219.23 L361.81 217.26 L362.82 215.48 L363.83 214.11 L364.84 212.96 L365.84 212.05 L366.85 211.51 L367.86 211.12 L368.87 210.87 L369.88 210.78 L370.89 210.75 L371.90 210.73 L372.90 210.71 L373.91 210.70 L374.92 210.69 L375.93 210.69 L376.94 210.69 L377.95 210.69 L378.96 210.69 L379.97 210.69 L380.97 210.69 L381.98 210.69 L382.99 210.69 L384.00 210.69 L385.01 210.69 L386.02 210.69 L387.03 210.68 L388.03 210.68 L389.04 210.67 L390.05 210.65 L391.06 210.63 L392.07 210.58 L393.08 210.49 L394.09 210.36 L395.09 210.19 L396.10 209.81 L397.11 209.02 L398.12 208.04 L399.13 206.84 L400.14 205.29 L401.15 203.59 L402.15 201.92 L403.16 200.17 L404.17 198.27 L405.18 196.11 L406.19 193.56 L407.20 190.94 L408.21 188.55 L409.22 186.18 L410.22 184.21 L411.23 182.73 L412.24 181.39 L413.25 180.40 L414.26 179.95 L415.27 179.74 L416.28 179.57 L417.28 179.46 L418.29 179.40 L419.30 179.38 L420.31 179.36 L421.32 179.35 L422.33 179.34 L423.34 179.33 L424.34 179.32 L425.35 179.32 L426.36 179.32 L427.37 179.32 L428.38 179.32 L429.39 179.32 L430.40 179.32 L431.40 179.32 L432.41 179.32 L433.42 179.32 L434.43 179.32 L435.44 179.32 L436.45 179.32 L437.46 179.32 L438.47 179.30 L439.47 179.28 L440.48 179.26 L441.49 179.24 L442.50 179.21 L443.51 179.17 L444.52 179.12 L445.53 179.02 L446.53 178.44 L447.54 177.41 L448.55 176.07 L449.56 173.98 L450.57 171.63 L451.58 169.20 L452.59 166.54 L453.59 163.79 L454.60 160.91 L455.61 157.97 L456.62 155.30 L457.63 152.88 L458.64 151.20 L459.65 149.99 L460.65 149.27 L461.66 148.75 L462.67 148.34 L463.68 147.98 L464.69 147.76 L465.70 147.76 L466.71 147.76 L467.72 147.76 L468.72 147.76 L469.73 147.76 L470.74 147.76 L471.75 147.76 L472.76 147.76 L473.77 147.76 L474.78 147.76 L475.78 147.76 L476.79 147.76 L477.80 147.76 L478.81 147.76 L479.82 147.76 L480.83 147.76 L481.84 147.76 L482.84 147.76 L483.85 147.76 L484.86 147.76 L485.87 147.76 L486.88 147.76 L487.89 147.76 L488.90 147.76 L489.90 147.76 L490.91 147.76 L491.92 147.76 L492.93 147.76 L493.94 147.60 L494.95 147.09 L495.96 146.39 L496.97 145.45 L497.97 144.08 L498.98 142.53 L499.99 140.80 L501.00 138.80 L502.01 136.61 L503.02 134.09 L504.03 131.34 L505.03 128.75 L506.04 126.24 L507.05 123.90 L508.06 122.03 L509.07 120.50 L510.08 119.24 L511.09 118.33 L512.09 117.56 L513.10 116.95 L514.11 116.60 L515.12 116.49 L516.13 116.41 L517.14 116.36 L518.15 116.32 L519.15 116.29 L520.16 116.27 L521.17 116.25 L522.18 116.24 L523.19 116.24 L524.20 116.24 L525.21 116.24 L526.22 116.24 L527.22 116.24 L528.23 116.24 L529.24 116.24 L530.25 116.24 L531.26 116.24 L532.27 116.24 L533.28 116.24 L534.28 116.24 L535.29 116.24 L536.30 116.23 L537.31 116.22 L538.32 116.20 L539.33 116.19 L540.34 116.16 L541.34 116.12 L542.35 115.93 L543.36 115.45 L544.37 114.80 L545.38 113.94 L546.39 112.54 L547.40 110.76 L548.40 108.57 L549.41 105.79 L550.42 102.90 L551.43 99.80 L552.44 96.75 L553.45 93.97 L554.46 91.37 L555.47 89.49 L556.47 88.18 L557.48 87.19 L558.49 86.43 L559.50 85.82 L560.51 85.55 L561.52 85.44 L562.53 85.36 L563.53 85.30 L564.54 85.24 L565.55 85.16 L566.56 85.09 L567.57 85.09 L568.58 85.09 L569.59 85.09 L570.59 85.09 L571.60 85.09 L572.61 85.09 L573.62 85.09 L574.63 85.09 L575.64 85.09 L576.65 85.09 L577.65 85.09 L578.66 85.10 L579.67 85.11 L580.68 85.12 L581.69 85.13 L582.70 85.15 L583.71 85.17 L584.72 85.18 L585.72 85.19 L586.73 85.20 L587.74 85.21 L588.75 85.19 L589.76 85.04 L590.77 84.77 L591.78 84.45 L592.78 84.13 L593.79 83.75 L594.80 83.32" stroke="#1f77b4"/>
<path d="M91.50 395.79 L92.51 394.83 L93.52 394.01 L94.53 393.20 L95.53 392.44 L96.54 391.93 L97.55 391.84 L98.56 391.98 L99.57 392.23 L100.58 392.49 L101.59 392.79 L102.59 393.16 L103.60 393.31 L104.61 392.77 L105.62 391.67 L106.63 390.29 L107.64 388.18 L108.65 385.94 L109.66 383.61 L110.66 381.18 L111.67 378.66 L112.68 376.13 L113.69 373.57 L114.70 371.04 L115.71 368.90 L116.72 367.14 L117.72 365.64 L118.73 364.43 L119.74 363.42 L120.75 362.56 L121.76 361.83 L122.77 361.19 L123.78 360.69 L124.78 360.31 L125.79 360.06 L126.80 360.03 L127.81 360.01 L128.82 359.99 L129.83 359.97 L130.84 359.96 L131.84 359.96 L132.85 359.95 L133.86 359.95 L134.87 359.95 L135.88 359.95 L136.89 359.95 L137.90 359.95 L138.91 359.95 L139.91 359.95 L140.92 359.95 L141.93 359.95 L142.94 359.95 L143.95 359.95 L144.96 359.95 L145.97 359.95 L146.97 359.95 L147.98 359.95 L148.99 359.95 L150.00 359.95 L151.01 359.95 L152.02 359.94 L153.03 359.92 L154.03 359.90 L155.04 359.76 L156.05 359.48 L157.06 358.90 L158.07 358.07 L159.08 357.01 L160.09 355.80 L161.09 354.64 L162.10 353.51 L163.11 352.33 L164.12 351.04 L165.13 349.55 L166.14 347.99 L167.15 346.42 L168.16 344.81 L169.16 343.10 L170.17 341.29 L171.18 339.42 L172.19 337.56 L173.20 335.72 L174.21 333.84 L175.22 332.02 L176.22 330.41 L177.23 329.04 L178.24 327.82 L179.25 326.74 L180.26 325.76 L181.27 325.04 L182.28 324.44 L183.28 323.96 L184.29 323.65 L185.30 323.54 L186.31 323.45 L187.32 323.38 L188.33 323.34 L189.34 323.33 L190.34 323.33 L191.35 323.33 L192.36 323.33 L193.37 323.33 L194.38 323.33 L195.39 323.33 L196.40 323.33 L197.41 323.33 L198.41 323.33 L199.42 323.33 L200.43 323.33 L201.44 323.34 L202.45 323.34 L203.46 323.36 L204.47 323.37 L205.47 323.38 L206.48 323.40 L207.49 323.41 L208.50 323.42 L209.51 323.44 L210.52 323.45 L211.53 323.47 L212.53 323.49 L213.54 323.51 L214.55 323.51 L215.56 323.51 L216.57 323.47 L217.58 323.38 L218.59 323.24 L219.59 323.07 L220.60 322.88 L221.61 322.55 L222.62 321.97 L223.63 321.22 L224.64 320.38 L225.65 319.40 L226.66 318.18 L227.66 316.80 L228.67 315.30 L229.68 313.66 L230.69 311.82 L231.70 309.77 L232.71 307.46 L233.72 304.65 L234.72 301.60 L235.73 298.64 L236.74 295.59 L237.75 292.53 L238.76 289.69 L239.77 287.29 L240.78 285.18 L241.78 283.29 L242.79 281.68 L243.80 280.38 L244.81 279.23 L245.82 278.42 L246.83 278.02 L247.84 277.73 L248.84 277.62 L249.85 277.62 L250.86 277.62 L251.87 277.62 L252.88 277.62 L253.89 277.62 L254.90 277.62 L255.91 277.62 L256.91 277.62 L257.92 277.62 L258.93 277.62 L259.94 277.62 L260.95 277.62 L261.96 277.62 L262.97 277.62 L263.97 277.62 L264.98 277.62 L265.99 277.62 L267.00 277.62 L268.01 277.62 L269.02 277.62 L270.03 277.62 L271.03 277.62 L272.04 277.62 L273.05 277.62 L274.06 277.62 L275.07 277.62 L276.08 277.62 L277.09 277.62 L278.09 277.62 L279.10 277.62 L280.11 277.62 L281.12 277.62 L282.13 277.62 L283.14 277.62 L284.15 277.62 L285.16 277.62 L286.16 277.62 L287.17 277.62 L288.18 277.62 L289.19 277.62 L290.20 277.62 L291.21 277.62 L292.22 277.62 L293.22 277.62 L294.23 277.62 L295.24 277.62 L296.25 277.61 L297.26 277.56 L298.27 277.36 L299.28 276.99 L300.28 276.38 L301.29 275.62 L302.30 274.68 L303.31 273.59 L304.32 272.41 L305.33 271.04 L306.34 269.48 L307.34 267.82 L308.35 266.13 L309.36 264.32 L310.37 262.48 L311.38 260.69 L312.39 258.91 L313.40 257.15 L314.41 255.49 L315.41 253.83 L316.42 251.71 L317.43 248.96 L318.44 246.25 L319.45 243.53 L320.46 240.78 L321.47 238.02 L322.47 235.19 L323.48 232.33 L324.49 229.53 L325.50 226.86 L326.51 224.32 L327.52 221.85 L328.53 219.41 L329.53 216.84 L330.54 214.22 L331.55 212.54 L332.56 211.45 L333.57 210.59 L334.58 209.86 L335.59 209.13 L336.59 208.39 L337.60 207.71 L338.61 207.22 L339.62 206.99 L340.63 206.81 L341.64 206.68 L342.65 206.62 L343.66 206.62 L344.66 206.62 L345.67 206.62 L346.68 206.62 L347.69 206.62 L348.70 206.62 L349.71 206.62 L350.72 206.62 L351.72 206.62 L352.73 206.62 L353.74 206.62 L354.75 206.62 L355.76 206.62 L356.77 206.62 L357.78 206.62 L358.78 206.62 L359.79 206.62 L360.80 206.62 L361.81 206.62 L362.82 206.62 L363.83 206.62 L364.84 206.62 L365.84 206.62 L366.85 206.62 L367.86 206.62 L368.87 206.62 L369.88 206.62 L370.89 206.62 L371.90 206.62 L372.90 206.62 L373.91 206.61 L374.92 206.61 L375.93 206.61 L376.94 206.61 L377.95 206.61 L378.96 206.61 L379.97 206.61 L380.97 206.61 L381.98 206.61 L382.99 206.61 L384.00 206.61 L385.01 206.61 L386.02 206.61 L387.03 206.61 L388.03 206.60 L389.04 206.60 L390.05 206.60 L391.06 206.60 L392.07 206.60 L393.08 206.60 L394.09 206.60 L395.09 206.61 L396.10 206.61 L397.11 206.62 L398.12 206.63 L399.13 206.64 L400.14 206.65 L401.15 206.67 L402.15 206.68 L403.16 206.69 L404.17 206.70 L405.18 206.71 L406.19 206.72 L407.20 206.73 L408.21 206.74 L409.22 206.74 L410.22 206.75 L411.23 206.74 L412.24 206.73 L413.25 206.69 L414.26 206.65 L415.27 206.44 L416.28 206.07 L417.28 205.69 L418.29 205.25 L419.30 204.71 L420.31 203.99 L421.32 203.08 L422.33 201.98 L423.34 200.55 L424.34 198.93 L425.35 197.24 L426.36 195.41 L427.37 193.55 L428.38 191.68 L429.39 189.66 L430.40 187.35 L431.40 184.79 L432.41 182.11 L433.42 179.46 L434.43 176.98 L435.44 174.63 L436.45 172.35 L437.46 170.11 L438.47 167.87 L439.47 165.64 L440.48 163.50 L441.49 161.37 L442.50 159.18 L443.51 156.83 L444.52 154.20 L445.53 151.30 L446.53 148.41 L447.54 145.65 L448.55 142.96 L449.56 140.40 L450.57 138.00 L451.58 135.84 L452.59 133.92 L453.59 132.16 L454.60 130.49 L455.61 128.88 L456.62 127.43 L457.63 126.24 L458.64 125.22 L459.65 124.29 L460.65 123.35 L461.66 122.46 L462.67 121.76 L463.68 121.22 L464.69 120.79 L465.70 120.55 L466.71 120.40 L467.72 120.29 L468.72 120.21 L469.73 120.18 L470.74 120.16 L471.75 120.14 L472.76 120.13 L473.77 120.13 L474.78 120.13 L475.78 120.13 L476.79 120.13 L477.80 120.13 L478.81 120.13 L479.82 120.13 L480.83 120.13 L481.84 120.13 L482.84 120.13 L483.85 120.13 L484.86 120.13 L485.87 120.13 L486.88 120.13 L487.89 120.13 L488.90 120.13 L489.90 120.13 L490.91 120.14 L491.92 120.14 L492.93 120.14 L493.94 120.14 L494.95 120.14 L495.96 120.14 L496.97 120.14 L497.97 120.14 L498.98 120.14 L499.99 120.14 L501.00 120.15 L502.01 120.15 L503.02 120.15 L504.03 120.15 L505.03 120.15 L506.04 120.15 L507.05 120.15 L508.06 120.15 L509.07 120.16 L510.08 120.16 L511.09 120.16 L512.09 120.16 L513.10 120.16 L514.11 120.16 L515.12 120.16 L516.13 120.16 L517.14 120.16 L518.15 120.16 L519.15 120.17 L520.16 120.17 L521.17 120.17 L522.18 120.17 L523.19 120.17 L524.20 120.17 L525.21 120.17 L526.22 120.17 L527.22 120.17 L528.23 120.17 L529.24 120.17 L530.25 120.17 L531.26 120.17 L532.27 120.17 L533.28 120.17 L534.28 120.17 L535.29 120.17 L536.30 120.17 L537.31 120.17 L538.32 120.17 L539.33 120.17 L540.34 120.17 L541.34 120.17 L542.35 120.17 L543.36 120.17 L544.37 120.17 L545.38 120.16 L546.39 120.16 L547.40 120.15 L548.40 120.13 L549.41 120.11 L550.42 120.08 L551.43 120.05 L552.44 120.02 L553.45 119.97 L554.46 119.92 L555.47 119.84 L556.47 119.29 L557.48 118.40 L558.49 117.47 L559.50 116.34 L560.51 115.04 L561.52 113.63 L562.53 112.20 L563.53 110.79 L564.54 109.35 L565.55 107.84 L566.56 106.20 L567.57 104.39 L568.58 102.41 L569.59 100.32 L570.59 98.15 L571.60 95.72 L572.61 93.24 L573.62 91.21 L574.63 89.68 L575.64 88.36 L576.65 87.02 L577.65 85.44 L578.66 83.41 L579.67 81.01 L580.68 78.41 L581.69 75.52 L582.70 72.40 L583.71 69.31 L584.72 66.23 L585.72 63.19 L586.73 60.30 L587.74 57.51 L588.75 54.87 L589.76 52.44 L590.77 50.14 L591.78 48.07 L592.78 46.29 L593.79 44.68 L594.80 43.28" stroke="#ff7f0e"/>
<path d="M91.50 393.90 L92.51 392.97 L93.52 392.06 L94.53 391.20 L95.53 390.35 L96.54 389.52 L97.55 388.68 L98.56 387.83 L99.57 386.98 L100.58 386.13 L101.59 385.28 L102.59 384.42 L103.60 383.57 L104.61 382.75 L105.62 381.95 L106.63 381.18 L107.64 380.43 L108.65 379.69 L109.66 378.96 L110.66 378.25 L111.67 377.56 L112.68 376.91 L113.69 376.27 L114.70 375.67 L115.71 375.11 L116.72 374.60 L117.72 374.11 L118.73 373.66 L119.74 373.28 L120.75 372.92 L121.76 372.60 L122.77 372.34 L123.78 372.15 L124.78 372.01 L125.79 371.90 L126.80 371.79 L127.81 371.68 L128.82 371.55 L129.83 371.38 L130.84 371.18 L131.84 370.97 L132.85 370.75 L133.86 370.54 L134.87 370.36 L135.88 370.19 L136.89 370.00 L137.90 369.78 L138.91 369.49 L139.91 369.10 L140.92 368.60 L141.93 367.98 L142.94 367.23 L143.95 366.13 L144.96 364.50 L145.97 362.56 L146.97 360.53 L147.98 358.54 L148.99 356.33 L150.00 354.06 L151.01 351.95 L152.02 350.11 L153.03 348.41 L154.03 346.98 L155.04 345.87 L156.05 344.94 L157.06 344.06 L158.07 343.17 L159.08 342.46 L160.09 341.95 L161.09 341.54 L162.10 341.21 L163.11 340.94 L164.12 340.66 L165.13 340.36 L166.14 340.06 L167.15 339.73 L168.16 339.45 L169.16 339.31 L170.17 339.23 L171.18 339.17 L172.19 339.13 L173.20 339.08 L174.21 339.03 L175.22 338.98 L176.22 338.93 L177.23 338.89 L178.24 338.88 L179.25 338.88 L180.26 338.91 L181.27 338.94 L182.28 338.98 L183.28 339.00 L184.29 339.02 L185.30 339.02 L186.31 339.02 L187.32 339.02 L188.33 339.02 L189.34 339.02 L190.34 339.02 L191.35 339.02 L192.36 339.02 L193.37 339.01 L194.38 338.77 L195.39 338.25 L196.40 337.56 L197.41 336.77 L198.41 335.57 L199.42 333.98 L200.43 332.15 L201.44 330.03 L202.45 327.29 L203.46 324.39 L204.47 321.69 L205.47 319.00 L206.48 316.31 L207.49 313.50 L208.50 310.67 L209.51 308.28 L210.52 306.28 L211.53 304.58 L212.53 303.41 L213.54 302.57 L214.55 301.95 L215.56 301.60 L216.57 301.34 L217.58 301.15 L218.59 301.04 L219.59 301.03 L220.60 301.03 L221.61 301.03 L222.62 301.03 L223.63 301.03 L224.64 301.03 L225.65 301.03 L226.66 301.03 L227.66 301.03 L228.67 301.03 L229.68 301.03 L230.69 301.03 L231.70 301.03 L232.71 301.01 L233.72 300.71 L234.72 300.41 L235.73 300.39 L236.74 300.39 L237.75 300.39 L238.76 300.39 L239.77 300.39 L240.78 300.39 L241.78 300.39 L242.79 300.39 L243.80 300.39 L244.81 300.39 L245.82 300.39 L246.83 300.38 L247.84 300.36 L248.84 300.34 L249.85 300.31 L250.86 300.28 L251.87 300.23 L252.88 300.18 L253.89 300.12 L254.90 299.94 L255.91 299.43 L256.91 298.74 L257.92 297.78 L258.93 296.39 L259.94 294.74 L260.95 292.68 L261.96 290.18 L262.97 287.56 L263.97 285.14 L264.98 282.85 L265.99 280.59 L267.00 278.34 L268.01 276.04 L269.02 273.58 L270.03 271.17 L271.03 269.09 L272.04 267.45 L273.05 265.97 L274.06 264.73 L275.07 263.82 L276.08 263.20 L277.09 262.68 L278.09 262.30 L279.10 262.11 L280.11 262.02 L281.12 261.95 L282.13 261.89 L283.14 261.85 L284.15 261.83 L285.16 261.83 L286.16 261.83 L287.17 261.83 L288.18 261.83 L289.19 261.83 L290.20 261.83 L291.21 261.83 L292.22 261.83 L293.22 261.83 L294.23 261.83 L295.24 261.83 L296.25 261.79 L297.26 261.78 L298.27 261.78 L299.28 261.78 L300.28 261.78 L301.29 261.78 L302.30 261.78 L303.31 261.78 L304.32 261.78 L305.33 261.78 L306.34 261.78 L307.34 261.78 L308.35 261.78 L309.36 261.78 L310.37 261.75 L311.38 261.68 L312.39 261.56 L313.40 261.42 L314.41 261.25 L315.41 260.91 L316.42 260.43 L317.43 259.87 L318.44 259.33 L319.45 258.80 L320.46 258.21 L321.47 257.46 L322.47 256.43 L323.48 254.39 L324.49 251.68 L325.50 249.13 L326.51 246.62 L327.52 244.08 L328.53 241.60 L329.53 239.18 L330.54 236.77 L331.55 234.46 L332.56 232.38 L333.57 230.55 L334.58 228.88 L335.59 227.32 L336.59 225.83 L337.60 224.41 L338.61 223.10 L339.62 221.86 L340.63 220.66 L341.64 219.67 L342.65 218.96 L343.66 218.39 L344.66 217.94 L345.67 217.58 L346.68 217.28 L347.69 217.07 L348.70 216.97 L349.71 216.89 L350.72 216.83 L351.72 216.79 L352.73 216.76 L353.74 216.73 L354.75 216.71 L355.76 216.68 L356.77 216.66 L357.78 216.65 L358.78 216.64 L359.79 216.63 L360.80 216.62 L361.81 216.62 L362.82 216.62 L363.83 216.62 L364.84 216.62 L365.84 216.62 L366.85 216.62 L367.86 216.62 L368.87 216.62 L369.88 216.62 L370.89 216.62 L371.90 216.62 L372.90 216.62 L373.91 216.62 L374.92 216.62 L375.93 216.61 L376.94 216.61 L377.95 216.61 L378.96 216.61 L379.97 216.61 L380.97 216.61 L381.98 216.61 L382.99 216.58 L384.00 216.41 L385.01 216.15 L386.02 215.80 L387.03 215.26 L388.03 214.58 L389.04 213.79 L390.05 212.82 L391.06 211.70 L392.07 210.46 L393.08 209.12 L394.09 207.59 L395.09 205.82 L396.10 203.91 L397.11 201.94 L398.12 200.01 L399.13 198.12 L400.14 196.20 L401.15 194.18 L402.15 191.99 L403.16 189.33 L404.17 187.19 L405.18 185.50 L406.19 183.81 L407.20 182.26 L408.21 180.94 L409.22 179.76 L410.22 178.68 L411.23 177.82 L412.24 177.06 L413.25 176.42 L414.26 176.01 L415.27 175.73 L416.28 175.49 L417.28 175.30 L418.29 175.17 L419.30 175.12 L420.31 175.11 L421.32 175.11 L422.33 175.10 L423.34 175.09 L424.34 175.09 L425.35 175.09 L426.36 175.08 L427.37 175.08 L428.38 175.08 L429.39 175.08 L430.40 175.07 L431.40 175.07 L432.41 175.07 L433.42 175.07 L434.43 175.07 L435.44 175.07 L436.45 175.07 L437.46 175.07 L438.47 175.07 L439.47 175.07 L440.48 175.07 L441.49 175.07 L442.50 175.07 L443.51 175.07 L444.52 175.07 L445.53 175.07 L446.53 175.07 L447.54 175.07 L448.55 175.07 L449.56 175.03 L450.57 174.95 L451.58 174.85 L452.59 174.72 L453.59 174.53 L454.60 174.15 L455.61 173.63 L456.62 173.00 L457.63 172.09 L458.64 170.80 L459.65 169.35 L460.65 167.99 L461.66 166.77 L462.67 165.51 L463.68 164.00 L464.69 162.15 L465.70 159.99 L466.71 157.63 L467.72 155.07 L468.72 152.05 L469.73 148.86 L470.74 145.95 L471.75 143.59 L472.76 141.52 L473.77 139.56 L474.78 137.55 L475.78 135.24 L476.79 132.97 L477.80 131.34 L478.81 130.22 L479.82 129.41 L480.83 128.85 L481.84 128.40 L482.84 128.12 L483.85 127.99 L484.86 127.88 L485.87 127.81 L486.88 127.79 L487.89 127.79 L488.90 127.79 L489.90 127.79 L490.91 127.79 L491.92 127.79 L492.93 127.79 L493.94 127.79 L494.95 127.79 L495.96 127.79 L496.97 127.79 L497.97 127.79 L498.98 127.79 L499.99 127.79 L501.00 127.79 L502.01 127.79 L503.02 127.79 L504.03 127.79 L505.03 127.79 L506.04 127.79 L507.05 127.79 L508.06 127.79 L509.07 127.79 L510.08 127.79 L511.09 127.79 L512.09 127.79 L513.10 127.79 L514.11 127.79 L515.12 127.79 L516.13 127.79 L517.14 127.79 L518.15 127.79 L519.15 127.79 L520.16 127.82 L521.17 127.85 L522.18 127.85 L523.19 127.85 L524.20 127.85 L525.21 127.85 L526.22 127.85 L527.22 127.84 L528.23 127.81 L529.24 127.68 L530.25 127.38 L531.26 126.87 L532.27 125.87 L533.28 124.64 L534.28 123.04 L535.29 121.21 L536.30 119.30 L537.31 117.22 L538.32 114.99 L539.33 112.59 L540.34 110.12 L541.34 107.56 L542.35 105.02 L543.36 102.52 L544.37 100.17 L545.38 97.96 L546.39 95.38 L547.40 92.52 L548.40 89.93 L549.41 87.76 L550.42 85.82 L551.43 84.40 L552.44 83.37 L553.45 82.58 L554.46 82.10 L555.47 81.77 L556.47 81.51 L557.48 81.35 L558.49 81.31 L559.50 81.30 L560.51 81.29 L561.52 81.28 L562.53 81.27 L563.53 81.27 L564.54 81.27 L565.55 81.26 L566.56 81.26 L567.57 81.26 L568.58 81.26 L569.59 81.25 L570.59 81.25 L571.60 81.24 L572.61 81.24 L573.62 81.23 L574.63 81.22 L575.64 81.18 L576.65 81.13 L577.65 81.07 L578.66 80.99 L579.67 80.92 L580.68 80.86 L581.69 80.81 L582.70 80.78 L583.71 80.77 L584.72 80.77 L585.72 80.77 L586.73 80.77 L587.74 80.77 L588.75 80.77 L589.76 80.77 L590.77 80.77 L591.78 80.77 L592.78 80.77 L593.79 80.77 L594.80 80.77" stroke="#2ca02c"/>
<path d="M91.50 396.07 L92.51 395.20 L93.52 394.46 L94.53 393.71 L95.53 393.00 L96.54 392.52 L97.55 392.43 L98.56 392.54 L99.57 392.72 L100.58 392.90 L101.59 393.06 L102.59 393.24 L103.60 393.31 L104.61 392.77 L105.62 391.67 L106.63 390.29 L107.64 388.18 L108.65 385.94 L109.66 383.58 L110.66 381.19 L111.67 378.76 L112.68 376.45 L113.69 374.38 L114.70 372.58 L115.71 371.26 L116.72 370.23 L117.72 369.64 L118.73 369.26 L119.74 369.10 L120.75 369.04 L121.76 369.01 L122.77 368.98 L123.78 368.95 L124.78 368.92 L125.79 368.90 L126.80 368.87 L127.81 368.86 L128.82 368.85 L129.83 368.85 L130.84 368.86 L131.84 368.87 L132.85 368.88 L133.86 368.89 L134.87 368.90 L135.88 368.91 L136.89 368.92 L137.90 368.92 L138.91 368.93 L139.91 368.86 L140.92 368.54 L141.93 368.01 L142.94 367.33 L143.95 366.52 L144.96 365.01 L145.97 362.86 L146.97 360.53 L147.98 358.39 L148.99 356.17 L150.00 353.94 L151.01 351.86 L152.02 349.99 L153.03 348.24 L154.03 346.78 L155.04 345.58 L156.05 344.57 L157.06 343.93 L158.07 343.51 L159.08 343.19 L160.09 342.97 L161.09 342.85 L162.10 342.77 L163.11 342.72 L164.12 342.70 L165.13 342.70 L166.14 342.70 L167.15 342.70 L168.16 342.70 L169.16 342.70 L170.17 342.70 L171.18 342.70 L172.19 342.70 L173.20 342.70 L174.21 342.70 L175.22 342.70 L176.22 342.70 L177.23 342.67 L178.24 342.57 L179.25 342.41 L180.26 342.21 L181.27 341.73 L182.28 340.92 L183.28 339.99 L184.29 339.03 L185.30 337.92 L186.31 336.71 L187.32 335.49 L188.33 334.21 L189.34 332.87 L190.34 331.60 L191.35 330.51 L192.36 329.60 L193.37 328.75 L194.38 327.87 L195.39 326.88 L196.40 325.85 L197.41 324.89 L198.41 324.05 L199.42 323.27 L200.43 322.56 L201.44 321.93 L202.45 321.34 L203.46 320.79 L204.47 320.33 L205.47 320.01 L206.48 319.78 L207.49 319.58 L208.50 319.45 L209.51 319.36 L210.52 319.30 L211.53 319.26 L212.53 319.22 L213.54 319.17 L214.55 319.12 L215.56 319.08 L216.57 319.03 L217.58 318.97 L218.59 318.85 L219.59 318.62 L220.60 318.29 L221.61 317.80 L222.62 317.02 L223.63 316.03 L224.64 314.94 L225.65 313.73 L226.66 312.29 L227.66 310.75 L228.67 309.23 L229.68 307.72 L230.69 306.17 L231.70 304.65 L232.71 303.20 L233.72 301.77 L234.72 300.48 L235.73 299.44 L236.74 298.47 L237.75 297.61 L238.76 296.87 L239.77 296.29 L240.78 295.81 L241.78 295.39 L242.79 295.08 L243.80 294.92 L244.81 294.85 L245.82 294.79 L246.83 294.75 L247.84 294.71 L248.84 294.67 L249.85 294.63 L250.86 294.59 L251.87 294.57 L252.88 294.54 L253.89 294.50 L254.90 294.45 L255.91 294.38 L256.91 294.13 L257.92 293.54 L258.93 292.76 L259.94 291.92 L260.95 290.97 L261.96 289.82 L262.97 288.58 L263.97 287.34 L264.98 286.07 L265.99 284.76 L267.00 283.42 L268.01 282.08 L269.02 280.76 L270.03 279.42 L271.03 278.07 L272.04 276.76 L273.05 275.50 L274.06 274.28 L275.07 273.05 L276.08 271.88 L277.09 270.82 L278.09 269.94 L279.10 269.18 L280.11 268.49 L281.12 267.94 L282.13 267.60 L283.14 267.35 L284.15 267.16 L285.16 267.03 L286.16 266.98 L287.17 266.95 L288.18 266.92 L289.19 266.91 L290.20 266.90 L291.21 266.90 L292.22 266.90 L293.22 266.90 L294.23 266.90 L295.24 266.89 L296.25 266.80 L297.26 266.76 L298.27 266.81 L299.28 266.87 L300.28 266.92 L301.29 266.88 L302.30 266.63 L303.31 266.27 L304.32 265.76 L305.33 265.02 L306.34 264.11 L307.34 263.04 L308.35 261.84 L309.36 260.46 L310.37 258.91 L311.38 257.19 L312.39 255.22 L313.40 253.27 L314.41 251.52 L315.41 249.86 L316.42 248.19 L317.43 246.46 L318.44 244.77 L319.45 243.27 L320.46 241.94 L321.47 240.75 L322.47 239.87 L323.48 239.20 L324.49 238.69 L325.50 238.41 L326.51 238.20 L327.52 238.05 L328.53 237.96 L329.53 237.94 L330.54 237.94 L331.55 237.93 L332.56 237.93 L333.57 237.93 L334.58 237.93 L335.59 237.92 L336.59 237.92 L337.60 237.91 L338.61 237.90 L339.62 237.89 L340.63 237.87 L341.64 237.85 L342.65 237.82 L343.66 237.78 L344.66 237.74 L345.67 237.69 L346.68 237.63 L347.69 237.42 L348.70 236.96 L349.71 236.35 L350.72 235.69 L351.72 234.87 L352.73 233.84 L353.74 232.69 L354.75 231.45 L355.76 230.03 L356.77 228.43 L357.78 226.76 L358.78 225.10 L359.79 223.40 L360.80 221.65 L361.81 219.93 L362.82 218.34 L363.83 216.81 L364.84 215.33 L365.84 213.98 L366.85 212.89 L367.86 211.97 L368.87 211.15 L369.88 210.50 L370.89 210.08 L371.90 209.76 L372.90 209.50 L373.91 209.34 L374.92 209.29 L375.93 209.26 L376.94 209.24 L377.95 209.23 L378.96 209.21 L379.97 209.20 L380.97 209.20 L381.98 209.19 L382.99 209.19 L384.00 209.18 L385.01 209.17 L386.02 209.17 L387.03 209.16 L388.03 209.14 L389.04 209.12 L390.05 209.07 L391.06 209.01 L392.07 208.91 L393.08 208.79 L394.09 208.65 L395.09 208.32 L396.10 207.74 L397.11 207.02 L398.12 206.24 L399.13 205.26 L400.14 204.07 L401.15 202.78 L402.15 201.48 L403.16 200.19 L404.17 198.85 L405.18 197.42 L406.19 195.87 L407.20 194.10 L408.21 192.11 L409.22 190.08 L410.22 188.20 L411.23 186.35 L412.24 184.55 L413.25 183.01 L414.26 181.82 L415.27 180.71 L416.28 179.73 L417.28 178.98 L418.29 178.54 L419.30 178.35 L420.31 178.20 L421.32 178.07 L422.33 177.98 L423.34 177.92 L424.34 177.89 L425.35 177.87 L426.36 177.86 L427.37 177.85 L428.38 177.84 L429.39 177.84 L430.40 177.83 L431.40 177.82 L432.41 177.81 L433.42 177.80 L434.43 177.79 L435.44 177.78 L436.45 177.76 L437.46 177.75 L438.47 177.73 L439.47 177.71 L440.48 177.68 L441.49 177.64 L442.50 177.60 L443.51 177.54 L444.52 177.22 L445.53 176.64 L446.53 175.90 L447.54 175.06 L448.55 173.83 L449.56 172.30 L450.57 170.67 L451.58 169.06 L452.59 167.32 L453.59 165.49 L454.60 163.60 L455.61 161.70 L456.62 159.69 L457.63 157.64 L458.64 155.69 L459.65 153.86 L460.65 152.12 L461.66 150.73 L462.67 149.64 L463.68 148.76 L464.69 148.15 L465.70 147.71 L466.71 147.34 L467.72 147.04 L468.72 146.78 L469.73 146.53 L470.74 146.32 L471.75 146.26 L472.76 146.26 L473.77 146.26 L474.78 146.26 L475.78 146.26 L476.79 146.26 L477.80 146.26 L478.81 146.26 L479.82 146.26 L480.83 146.26 L481.84 146.26 L482.84 146.26 L483.85 146.26 L484.86 146.26 L485.87 146.26 L486.88 146.26 L487.89 146.26 L488.90 146.26 L489.90 146.26 L490.91 146.26 L491.92 146.24 L492.93 146.02 L493.94 145.60 L494.95 145.07 L495.96 144.47 L496.97 143.59 L497.97 142.50 L498.98 141.30 L499.99 140.03 L501.00 138.60 L502.01 137.02 L503.02 135.33 L504.03 133.46 L505.03 131.38 L506.04 129.27 L507.05 127.30 L508.06 125.37 L509.07 123.48 L510.08 121.80 L511.09 120.44 L512.09 119.25 L513.10 118.21 L514.11 117.36 L515.12 116.72 L516.13 116.13 L517.14 115.63 L518.15 115.26 L519.15 115.07 L520.16 114.99 L521.17 114.93 L522.18 114.88 L523.19 114.85 L524.20 114.82 L525.21 114.79 L526.22 114.78 L527.22 114.76 L528.23 114.75 L529.24 114.74 L530.25 114.74 L531.26 114.73 L532.27 114.72 L533.28 114.71 L534.28 114.70 L535.29 114.69 L536.30 114.68 L537.31 114.66 L538.32 114.63 L539.33 114.59 L540.34 114.43 L541.34 114.14 L542.35 113.75 L543.36 113.30 L544.37 112.78 L545.38 112.03 L546.39 111.04 L547.40 109.88 L548.40 108.62 L549.41 107.07 L550.42 105.25 L551.43 103.32 L552.44 101.40 L553.45 99.35 L554.46 97.26 L555.47 95.25 L556.47 93.40 L557.48 91.56 L558.49 89.87 L559.50 88.51 L560.51 87.51 L561.52 86.68 L562.53 85.98 L563.53 85.42 L564.54 84.93 L565.55 84.50 L566.56 84.19 L567.57 84.05 L568.58 83.97 L569.59 83.91 L570.59 83.86 L571.60 83.82 L572.61 83.78 L573.62 83.74 L574.63 83.69 L575.64 83.62 L576.65 83.59 L577.65 83.59 L578.66 83.60 L579.67 83.61 L580.68 83.62 L581.69 83.63 L582.70 83.65 L583.71 83.67 L584.72 83.68 L585.72 83.69 L586.73 83.70 L587.74 83.71 L588.75 83.69 L589.76 83.54 L590.77 83.27 L591.78 82.95 L592.78 82.63 L593.79 82.25 L594.80 81.82" stroke="#d62728"/>
<path d="M91.50 397.67 L92.51 396.98 L93.52 396.32 L94.53 395.68 L95.53 395.06 L96.54 394.44 L97.55 393.83 L98.56 393.24 L99.57 392.64 L100.58 392.03 L101.59 391.37 L102.59 390.68 L103.60 389.97 L104.61 389.22 L105.62 388.45 L106.63 387.66 L107.64 386.83 L108.65 385.98 L109.66 385.07 L110.66 384.14 L111.67 383.23 L112.68 382.37 L113.69 381.54 L114.70 380.74 L115.71 379.97 L116.72 379.22 L117.72 378.48 L118.73 377.79 L119.74 377.17 L120.75 376.62 L121.76 376.11 L122.77 375.64 L123.78 375.23 L124.78 374.85 L125.79 374.51 L126.80 374.18 L127.81 373.84 L128.82 373.48 L129.83 373.11 L130.84 372.75 L131.84 372.36 L132.85 371.94 L133.86 371.45 L134.87 370.87 L135.88 370.19 L136.89 369.45 L137.90 368.67 L138.91 367.86 L139.91 367.05 L140.92 366.20 L141.93 365.32 L142.94 364.40 L143.95 363.44 L144.96 362.45 L145.97 361.42 L146.97 360.32 L147.98 359.16 L148.99 357.97 L150.00 356.77 L151.01 355.58 L152.02 354.39 L153.03 353.15 L154.03 351.91 L155.04 350.71 L156.05 349.61 L157.06 348.66 L158.07 347.83 L159.08 347.06 L160.09 346.34 L161.09 345.67 L162.10 345.04 L163.11 344.43 L164.12 343.86 L165.13 343.33 L166.14 342.83 L167.15 342.33 L168.16 341.82 L169.16 341.31 L170.17 340.82 L171.18 340.31 L172.19 339.77 L173.20 339.20 L174.21 338.60 L175.22 337.97 L176.22 337.32 L177.23 336.64 L178.24 335.91 L179.25 335.15 L180.26 334.41 L181.27 333.73 L182.28 333.12 L183.28 332.53 L184.29 331.92 L185.30 331.25 L186.31 330.51 L187.32 329.76 L188.33 329.01 L189.34 328.31 L190.34 327.66 L191.35 327.04 L192.36 326.44 L193.37 325.86 L194.38 325.30 L195.39 324.76 L196.40 324.25 L197.41 323.75 L198.41 323.27 L199.42 322.82 L200.43 322.39 L201.44 321.99 L202.45 321.58 L203.46 321.14 L204.47 320.67 L205.47 320.19 L206.48 319.68 L207.49 319.13 L208.50 318.54 L209.51 317.86 L210.52 317.10 L211.53 316.30 L212.53 315.49 L213.54 314.70 L214.55 313.88 L215.56 313.05 L216.57 312.24 L217.58 311.50 L218.59 310.85 L219.59 310.27 L220.60 309.73 L221.61 309.22 L222.62 308.71 L223.63 308.19 L224.64 307.71 L225.65 307.23 L226.66 306.72 L227.66 306.18 L228.67 305.59 L229.68 304.98 L230.69 304.31 L231.70 303.59 L232.71 302.80 L233.72 301.84 L234.72 300.80 L235.73 299.77 L236.74 298.70 L237.75 297.62 L238.76 296.56 L239.77 295.53 L240.78 294.54 L241.78 293.58 L242.79 292.63 L243.80 291.71 L244.81 290.80 L245.82 289.88 L246.83 288.98 L247.84 288.10 L248.84 287.28 L249.85 286.55 L250.86 285.89 L251.87 285.28 L252.88 284.67 L253.89 284.01 L254.90 283.28 L255.91 282.49 L256.91 281.66 L257.92 280.83 L258.93 280.00 L259.94 279.20 L260.95 278.41 L261.96 277.62 L262.97 276.80 L263.97 275.96 L264.98 275.07 L265.99 274.16 L267.00 273.24 L268.01 272.31 L269.02 271.40 L270.03 270.46 L271.03 269.52 L272.04 268.60 L273.05 267.75 L274.06 266.96 L275.07 266.21 L276.08 265.49 L277.09 264.82 L278.09 264.20 L279.10 263.67 L280.11 263.20 L281.12 262.74 L282.13 262.24 L283.14 261.64 L284.15 260.89 L285.16 260.04 L286.16 259.16 L287.17 258.34 L288.18 257.62 L289.19 256.97 L290.20 256.34 L291.21 255.75 L292.22 255.16 L293.22 254.59 L294.23 254.02 L295.24 253.43 L296.25 252.82 L297.26 252.18 L298.27 251.52 L299.28 250.83 L300.28 250.15 L301.29 249.47 L302.30 248.79 L303.31 248.08 L304.32 247.33 L305.33 246.51 L306.34 245.58 L307.34 244.62 L308.35 243.68 L309.36 242.83 L310.37 242.06 L311.38 241.33 L312.39 240.63 L313.40 239.97 L314.41 239.31 L315.41 238.68 L316.42 238.07 L317.43 237.49 L318.44 236.96 L319.45 236.46 L320.46 235.98 L321.47 235.50 L322.47 235.00 L323.48 234.47 L324.49 233.90 L325.50 233.30 L326.51 232.69 L327.52 232.09 L328.53 231.51 L329.53 230.96 L330.54 230.46 L331.55 229.96 L332.56 229.44 L333.57 228.87 L334.58 228.26 L335.59 227.63 L336.59 227.00 L337.60 226.38 L338.61 225.75 L339.62 225.12 L340.63 224.50 L341.64 223.91 L342.65 223.35 L343.66 222.80 L344.66 222.27 L345.67 221.76 L346.68 221.28 L347.69 220.83 L348.70 220.41 L349.71 220.01 L350.72 219.60 L351.72 219.15 L352.73 218.64 L353.74 218.11 L354.75 217.58 L355.76 217.09 L356.77 216.66 L357.78 216.29 L358.78 215.94 L359.79 215.59 L360.80 215.24 L361.81 214.85 L362.82 214.43 L363.83 214.00 L364.84 213.60 L365.84 213.23 L366.85 212.89 L367.86 212.56 L368.87 212.26 L369.88 211.98 L370.89 211.73 L371.90 211.52 L372.90 211.33 L373.91 211.15 L374.92 210.95 L375.93 210.71 L376.94 210.43 L377.95 210.12 L378.96 209.77 L379.97 209.38 L380.97 208.95 L381.98 208.48 L382.99 207.97 L384.00 207.41 L385.01 206.77 L386.02 206.05 L387.03 205.30 L388.03 204.54 L389.04 203.78 L390.05 202.99 L391.06 202.19 L392.07 201.36 L393.08 200.51 L394.09 199.63 L395.09 198.71 L396.10 197.77 L397.11 196.86 L398.12 195.99 L399.13 195.17 L400.14 194.37 L401.15 193.58 L402.15 192.78 L403.16 191.97 L404.17 191.20 L405.18 190.33 L406.19 189.13 L407.20 187.50 L408.21 185.67 L409.22 183.91 L410.22 182.48 L411.23 181.43 L412.24 180.51 L413.25 179.69 L414.26 178.89 L415.27 178.07 L416.28 177.25 L417.28 176.46 L418.29 175.68 L419.30 174.92 L420.31 174.17 L421.32 173.43 L422.33 172.70 L423.34 171.99 L424.34 171.29 L425.35 170.60 L426.36 169.92 L427.37 169.25 L428.38 168.61 L429.39 168.00 L430.40 167.42 L431.40 166.87 L432.41 166.32 L433.42 165.76 L434.43 165.18 L435.44 164.58 L436.45 163.99 L437.46 163.40 L438.47 162.84 L439.47 162.30 L440.48 161.79 L441.49 161.29 L442.50 160.80 L443.51 160.32 L444.52 159.85 L445.53 159.39 L446.53 158.95 L447.54 158.53 L448.55 158.14 L449.56 157.79 L450.57 157.45 L451.58 157.12 L452.59 156.79 L453.59 156.45 L454.60 156.12 L455.61 155.79 L456.62 155.44 L457.63 155.07 L458.64 154.69 L459.65 154.31 L460.65 153.89 L461.66 153.40 L462.67 152.79 L463.68 151.84 L464.69 150.92 L465.70 150.29 L466.71 149.76 L467.72 149.28 L468.72 148.84 L469.73 148.39 L470.74 147.96 L471.75 147.55 L472.76 147.15 L473.77 146.72 L474.78 146.24 L475.78 145.73 L476.79 145.18 L477.80 144.60 L478.81 143.98 L479.82 143.31 L480.83 142.57 L481.84 141.78 L482.84 140.98 L483.85 140.19 L484.86 139.41 L485.87 138.63 L486.88 137.85 L487.89 137.09 L488.90 136.37 L489.90 135.68 L490.91 135.02 L491.92 134.37 L492.93 133.72 L493.94 133.04 L494.95 132.36 L495.96 131.68 L496.97 130.97 L497.97 130.23 L498.98 129.41 L499.99 128.53 L501.00 127.60 L502.01 126.65 L503.02 125.72 L504.03 124.82 L505.03 123.91 L506.04 123.00 L507.05 122.09 L508.06 121.19 L509.07 120.28 L510.08 119.37 L511.09 118.46 L512.09 117.56 L513.10 116.65 L514.11 115.78 L515.12 114.92 L516.13 114.02 L517.14 113.05 L518.15 111.93 L519.15 110.64 L520.16 109.39 L521.17 108.37 L522.18 107.48 L523.19 106.68 L524.20 105.96 L525.21 105.33 L526.22 104.77 L527.22 104.26 L528.23 103.78 L529.24 103.29 L530.25 102.80 L531.26 102.35 L532.27 101.89 L533.28 101.40 L534.28 100.85 L535.29 100.19 L536.30 99.45 L537.31 98.66 L538.32 97.86 L539.33 97.08 L540.34 96.28 L541.34 95.47 L542.35 94.66 L543.36 93.84 L544.37 93.03 L545.38 92.23 L546.39 91.42 L547.40 90.61 L548.40 89.81 L549.41 89.00 L550.42 88.19 L551.43 87.39 L552.44 86.58 L553.45 85.77 L554.46 84.94 L555.47 84.10 L556.47 83.27 L557.48 82.49 L558.49 81.79 L559.50 81.10 L560.51 80.44 L561.52 79.85 L562.53 79.35 L563.53 78.96 L564.54 78.64 L565.55 78.37 L566.56 78.10 L567.57 77.80 L568.58 77.48 L569.59 77.16 L570.59 76.82 L571.60 76.43 L572.61 75.95 L573.62 75.23 L574.63 74.40 L575.64 73.66 L576.65 72.92 L577.65 72.22 L578.66 71.60 L579.67 71.08 L580.68 70.60 L581.69 70.17 L582.70 69.77 L583.71 69.40 L584.72 69.07 L585.72 68.77 L586.73 68.48 L587.74 68.20 L588.75 67.90 L589.76 67.60 L590.77 67.31 L591.78 67.01 L592.78 66.69 L593.79 66.36 L594.80 66.01" stroke="#9467bd"/>
</g></g>
<g stroke="#000" stroke-width="1.111">
<line x1="91.5" y1="417.5" x2="91.5" y2="422.91"/>
<line x1="192.5" y1="417.5" x2="192.5" y2="422.91"/>
<line x1="293.5" y1="417.5" x2="293.5" y2="422.91"/>
<line x1="394.5" y1="417.5" x2="394.5" y2="422.91"/>
<line x1="495.5" y1="417.5" x2="495.5" y2="422.91"/>
<line x1="596.5" y1="417.5" x2="596.5" y2="422.91"/>
<line x1="61.09" y1="398.5" x2="66.5" y2="398.5"/>
<line x1="61.09" y1="346.5" x2="66.5" y2="346.5"/>
<line x1="61.09" y1="293.5" x2="66.5" y2="293.5"/>
<line x1="61.09" y1="241.5" x2="66.5" y2="241.5"/>
<line x1="61.09" y1="188.5" x2="66.5" y2="188.5"/>
<line x1="61.09" y1="136.5" x2="66.5" y2="136.5"/>
<line x1="61.09" y1="84.5" x2="66.5" y2="84.5"/>
<line x1="61.09" y1="31.5" x2="66.5" y2="31.5"/>
</g>
<rect x="66.5" y="10.5" width="554.0" height="407.0" fill="none" stroke="#000" stroke-width="1.111"/>
<g style="font-family:'DejaVu Sans','Liberation Sans',sans-serif;font-size:13.889px;fill:#000">
<text x="91.57" y="436.95" text-anchor="middle">0</text>
<text x="191.80" y="436.95" text-anchor="middle" letter-spacing="-0.2">100</text>
<text x="292.80" y="436.95" text-anchor="middle" letter-spacing="-0.2">200</text>
<text x="393.80" y="436.95" text-anchor="middle" letter-spacing="-0.2">300</text>
<text x="494.80" y="436.95" text-anchor="middle" letter-spacing="-0.2">400</text>
<text x="595.80" y="436.95" text-anchor="middle" letter-spacing="-0.2">500</text>
<text x="56.95" y="404" text-anchor="end">0</text>
<text x="56.65" y="351" text-anchor="end">20</text>
<text x="56.05" y="299" text-anchor="end">40</text>
<text x="55.75" y="246" text-anchor="end">60</text>
<text x="55.65" y="194" text-anchor="end">80</text>
<text x="55.65" y="142" text-anchor="end">100</text>
<text x="55.65" y="89" text-anchor="end">120</text>
<text x="55.65" y="37" text-anchor="end">140</text>
<text x="343.10" y="457" text-anchor="middle">Iteration</text>
<text transform="translate(20.55 216.00) rotate(-90)" text-anchor="middle">n_queries</text>
</g>
<rect x="73.5" y="17.5" width="191.0" height="109.0" rx="2.78" ry="2.78" fill="#fff" fill-opacity="0.8" stroke="#ccc" stroke-opacity="0.8" stroke-width="1.389"/>
<g fill="none" stroke-width="2.083" stroke-linecap="square">
<line x1="77.90" y1="28.94" x2="105.68" y2="28.94" stroke="#1f77b4"/>
<line x1="77.90" y1="50.03" x2="105.68" y2="50.03" stroke="#ff7f0e"/>
<line x1="77.90" y1="71.11" x2="105.68" y2="71.11" stroke="#2ca02c"/>
<line x1="77.90" y1="92.20" x2="105.68" y2="92.20" stroke="#d62728"/>
<line x1="77.90" y1="113.28" x2="105.68" y2="113.28" stroke="#9467bd"/>
</g>
<g style="font-family:'DejaVu Sans','Liberation Sans',sans-serif;font-size:13.889px;fill:#000">
<text x="116.74" y="33.80">Adaptive_A_Optimal</text>
<text x="116.74" y="54.88">Adaptive_D_Optimal</text>
<text x="116.74" y="75.97">Adaptive_Distance</text>
<text x="116.74" y="97.06">Adaptive_E_Optimal</text>
<text x="117.69" y="118.14">Random</text>
</g>
</svg>
</body></html>
